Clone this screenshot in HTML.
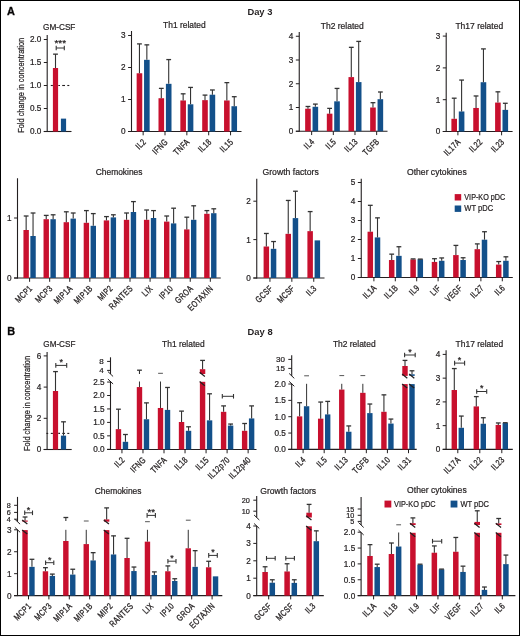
<!DOCTYPE html>
<html><head><meta charset="utf-8"><style>
html,body{margin:0;padding:0;background:#fff;}
body{width:520px;height:636px;position:relative;overflow:hidden;}
svg{will-change:transform;}
svg text{font-family:"Liberation Sans", sans-serif;stroke:#231f20;stroke-width:0.22px;}
</style></head><body>
<svg width="520" height="636" viewBox="0 0 520 636" style="position:absolute;left:0;top:0">
<g font-family='"Liberation Sans", sans-serif'>
<rect x="0.5" y="0.5" width="519" height="635" fill="none" stroke="#000" stroke-width="1"/>
<text x="6.9" y="14.8" font-size="10.9" font-weight="bold" style="stroke-width:0.35" fill="#000">A</text>
<text x="247.4" y="15.2" font-size="9.6" text-anchor="start" font-weight="bold" style="stroke-width:0" textLength="25" lengthAdjust="spacingAndGlyphs" fill="#231f20">Day 3</text>
<text x="59.2" y="30" font-size="8.9" text-anchor="middle" textLength="32.4" lengthAdjust="spacingAndGlyphs" fill="#231f20">GM-CSF</text>
<text transform="translate(23.7,85.3) rotate(-90)" font-size="8.2" text-anchor="middle" textLength="95" lengthAdjust="spacingAndGlyphs" fill="#231f20">Fold change in concentration</text>
<line x1="47.2" y1="35" x2="47.2" y2="132" stroke="#231f20" stroke-width="1.1" />
<line x1="43.8" y1="131.5" x2="71.5" y2="131.5" stroke="#231f20" stroke-width="1.1" />
<line x1="43.8" y1="131.5" x2="47.2" y2="131.5" stroke="#231f20" stroke-width="1.0" />
<text x="41.3" y="134.4" font-size="8.2" text-anchor="end" fill="#231f20">0.0</text>
<line x1="43.8" y1="108.5" x2="47.2" y2="108.5" stroke="#231f20" stroke-width="1.0" />
<text x="41.3" y="111.4" font-size="8.2" text-anchor="end" fill="#231f20">0.5</text>
<line x1="43.8" y1="85.5" x2="47.2" y2="85.5" stroke="#231f20" stroke-width="1.0" />
<text x="41.3" y="88.4" font-size="8.2" text-anchor="end" fill="#231f20">1.0</text>
<line x1="43.8" y1="62.5" x2="47.2" y2="62.5" stroke="#231f20" stroke-width="1.0" />
<text x="41.3" y="65.4" font-size="8.2" text-anchor="end" fill="#231f20">1.5</text>
<line x1="43.8" y1="39.5" x2="47.2" y2="39.5" stroke="#231f20" stroke-width="1.0" />
<text x="41.3" y="42.4" font-size="8.2" text-anchor="end" fill="#231f20">2.0</text>
<line x1="50.8" y1="85.5" x2="52.9" y2="85.5" stroke="#231f20" stroke-width="1.1" />
<line x1="55" y1="85.5" x2="58" y2="85.5" stroke="#231f20" stroke-width="1.1" />
<line x1="58.3" y1="85.5" x2="60" y2="85.5" stroke="#231f20" stroke-width="1.1" />
<line x1="62.2" y1="85.5" x2="65" y2="85.5" stroke="#231f20" stroke-width="1.1" />
<line x1="67.3" y1="85.5" x2="69.3" y2="85.5" stroke="#231f20" stroke-width="1.1" />
<rect x="52.9" y="68.02" width="5.2" height="63.48" fill="#c8102e"/>
<line x1="55.5" y1="68.02" x2="55.5" y2="54.16" stroke="#333333" stroke-width="1.1" />
<line x1="53.1" y1="54.16" x2="57.9" y2="54.16" stroke="#333333" stroke-width="1.3" />
<rect x="60.9" y="118.62" width="5.2" height="12.88" fill="#13508a"/>
<line x1="56.2" y1="48" x2="64.3" y2="48" stroke="#333333" stroke-width="1.0" />
<line x1="56.2" y1="45.7" x2="56.2" y2="50.3" stroke="#333333" stroke-width="1.1" />
<line x1="64.3" y1="45.7" x2="64.3" y2="50.3" stroke="#333333" stroke-width="1.1" />
<text x="60.25" y="45.8" font-size="9" text-anchor="middle" textLength="11.7" lengthAdjust="spacingAndGlyphs" fill="#231f20">***</text>
<text x="184.4" y="27.9" font-size="8.9" text-anchor="middle" textLength="42.6" lengthAdjust="spacingAndGlyphs" fill="#231f20">Th1 related</text>
<line x1="131.5" y1="31" x2="131.5" y2="132" stroke="#231f20" stroke-width="1.1" />
<line x1="128.1" y1="131.5" x2="241.5" y2="131.5" stroke="#231f20" stroke-width="1.1" />
<line x1="128.1" y1="131.5" x2="131.5" y2="131.5" stroke="#231f20" stroke-width="1.0" />
<text x="125.6" y="134.4" font-size="8.2" text-anchor="end" fill="#231f20">0</text>
<line x1="128.1" y1="99.5" x2="131.5" y2="99.5" stroke="#231f20" stroke-width="1.0" />
<text x="125.6" y="102.4" font-size="8.2" text-anchor="end" fill="#231f20">1</text>
<line x1="128.1" y1="67.5" x2="131.5" y2="67.5" stroke="#231f20" stroke-width="1.0" />
<text x="125.6" y="70.4" font-size="8.2" text-anchor="end" fill="#231f20">2</text>
<line x1="128.1" y1="35.5" x2="131.5" y2="35.5" stroke="#231f20" stroke-width="1.0" />
<text x="125.6" y="38.4" font-size="8.2" text-anchor="end" fill="#231f20">3</text>
<rect x="136.65" y="73.26" width="5.6" height="58.24" fill="#c8102e"/>
<line x1="139.45" y1="73.26" x2="139.45" y2="43.9" stroke="#333333" stroke-width="1.1" />
<line x1="137.05" y1="43.9" x2="141.85" y2="43.9" stroke="#333333" stroke-width="1.3" />
<rect x="144.05" y="59.82" width="5.6" height="71.68" fill="#13508a"/>
<line x1="146.85" y1="59.82" x2="146.85" y2="44.86" stroke="#333333" stroke-width="1.1" />
<line x1="144.45" y1="44.86" x2="149.25" y2="44.86" stroke="#333333" stroke-width="1.3" />
<line x1="143.15" y1="131.5" x2="143.15" y2="135.3" stroke="#231f20" stroke-width="1.0" />
<text transform="translate(146.55,142.5) rotate(-45) scale(0.75,1)" font-size="9.0" text-anchor="end" letter-spacing="0.5" style="stroke-width:0.3" fill="#231f20">IL2</text>
<rect x="158.5" y="98.22" width="5.6" height="33.28" fill="#c8102e"/>
<line x1="161.3" y1="98.22" x2="161.3" y2="88.38" stroke="#333333" stroke-width="1.1" />
<line x1="158.9" y1="88.38" x2="163.7" y2="88.38" stroke="#333333" stroke-width="1.3" />
<rect x="165.9" y="83.82" width="5.6" height="47.68" fill="#13508a"/>
<line x1="168.7" y1="83.82" x2="168.7" y2="59.58" stroke="#333333" stroke-width="1.1" />
<line x1="166.3" y1="59.58" x2="171.1" y2="59.58" stroke="#333333" stroke-width="1.3" />
<line x1="165" y1="131.5" x2="165" y2="135.3" stroke="#231f20" stroke-width="1.0" />
<text transform="translate(168.4,142.5) rotate(-45) scale(0.75,1)" font-size="9.0" text-anchor="end" letter-spacing="0.5" style="stroke-width:0.3" fill="#231f20">IFNG</text>
<rect x="180.35" y="100.46" width="5.6" height="31.04" fill="#c8102e"/>
<line x1="183.15" y1="100.46" x2="183.15" y2="93.82" stroke="#333333" stroke-width="1.1" />
<line x1="180.75" y1="93.82" x2="185.55" y2="93.82" stroke="#333333" stroke-width="1.3" />
<rect x="187.75" y="104.3" width="5.6" height="27.2" fill="#13508a"/>
<line x1="190.55" y1="104.3" x2="190.55" y2="87.42" stroke="#333333" stroke-width="1.1" />
<line x1="188.15" y1="87.42" x2="192.95" y2="87.42" stroke="#333333" stroke-width="1.3" />
<line x1="186.85" y1="131.5" x2="186.85" y2="135.3" stroke="#231f20" stroke-width="1.0" />
<text transform="translate(190.25,142.5) rotate(-45) scale(0.75,1)" font-size="9.0" text-anchor="end" letter-spacing="0.5" style="stroke-width:0.3" fill="#231f20">TNFA</text>
<rect x="202.2" y="100.14" width="5.6" height="31.36" fill="#c8102e"/>
<line x1="205" y1="100.14" x2="205" y2="95.1" stroke="#333333" stroke-width="1.1" />
<line x1="202.6" y1="95.1" x2="207.4" y2="95.1" stroke="#333333" stroke-width="1.3" />
<rect x="209.6" y="94.7" width="5.6" height="36.8" fill="#13508a"/>
<line x1="212.4" y1="94.7" x2="212.4" y2="89.98" stroke="#333333" stroke-width="1.1" />
<line x1="210" y1="89.98" x2="214.8" y2="89.98" stroke="#333333" stroke-width="1.3" />
<line x1="208.7" y1="131.5" x2="208.7" y2="135.3" stroke="#231f20" stroke-width="1.0" />
<text transform="translate(212.1,142.5) rotate(-45) scale(0.75,1)" font-size="9.0" text-anchor="end" letter-spacing="0.5" style="stroke-width:0.3" fill="#231f20">IL18</text>
<rect x="224.05" y="100.46" width="5.6" height="31.04" fill="#c8102e"/>
<line x1="226.85" y1="100.46" x2="226.85" y2="82.62" stroke="#333333" stroke-width="1.1" />
<line x1="224.45" y1="82.62" x2="229.25" y2="82.62" stroke="#333333" stroke-width="1.3" />
<rect x="231.45" y="106.22" width="5.6" height="25.28" fill="#13508a"/>
<line x1="234.25" y1="106.22" x2="234.25" y2="96.7" stroke="#333333" stroke-width="1.1" />
<line x1="231.85" y1="96.7" x2="236.65" y2="96.7" stroke="#333333" stroke-width="1.3" />
<line x1="230.55" y1="131.5" x2="230.55" y2="135.3" stroke="#231f20" stroke-width="1.0" />
<text transform="translate(233.95,142.5) rotate(-45) scale(0.75,1)" font-size="9.0" text-anchor="end" letter-spacing="0.5" style="stroke-width:0.3" fill="#231f20">IL15</text>
<text x="342.25" y="29.1" font-size="8.9" text-anchor="middle" textLength="43" lengthAdjust="spacingAndGlyphs" fill="#231f20">Th2 related</text>
<line x1="299.25" y1="32" x2="299.25" y2="131.75" stroke="#231f20" stroke-width="1.1" />
<line x1="295.85" y1="131.25" x2="387.5" y2="131.25" stroke="#231f20" stroke-width="1.1" />
<line x1="295.85" y1="131.25" x2="299.25" y2="131.25" stroke="#231f20" stroke-width="1.0" />
<text x="293.35" y="134.15" font-size="8.2" text-anchor="end" fill="#231f20">0</text>
<line x1="295.85" y1="107.5" x2="299.25" y2="107.5" stroke="#231f20" stroke-width="1.0" />
<text x="293.35" y="110.4" font-size="8.2" text-anchor="end" fill="#231f20">1</text>
<line x1="295.85" y1="83.75" x2="299.25" y2="83.75" stroke="#231f20" stroke-width="1.0" />
<text x="293.35" y="86.65" font-size="8.2" text-anchor="end" fill="#231f20">2</text>
<line x1="295.85" y1="60" x2="299.25" y2="60" stroke="#231f20" stroke-width="1.0" />
<text x="293.35" y="62.9" font-size="8.2" text-anchor="end" fill="#231f20">3</text>
<line x1="295.85" y1="36.25" x2="299.25" y2="36.25" stroke="#231f20" stroke-width="1.0" />
<text x="293.35" y="39.15" font-size="8.2" text-anchor="end" fill="#231f20">4</text>
<rect x="305.15" y="108.69" width="5.6" height="22.56" fill="#c8102e"/>
<line x1="307.95" y1="108.69" x2="307.95" y2="106.48" stroke="#333333" stroke-width="1.1" />
<line x1="305.55" y1="106.48" x2="310.35" y2="106.48" stroke="#333333" stroke-width="1.3" />
<rect x="312.55" y="106.79" width="5.6" height="24.46" fill="#13508a"/>
<line x1="315.35" y1="106.79" x2="315.35" y2="104.1" stroke="#333333" stroke-width="1.1" />
<line x1="312.95" y1="104.1" x2="317.75" y2="104.1" stroke="#333333" stroke-width="1.3" />
<line x1="311.65" y1="131.25" x2="311.65" y2="135.05" stroke="#231f20" stroke-width="1.0" />
<text transform="translate(315.05,142.25) rotate(-45) scale(0.75,1)" font-size="9.0" text-anchor="end" letter-spacing="0.5" style="stroke-width:0.3" fill="#231f20">IL4</text>
<rect x="326.82" y="113.67" width="5.6" height="17.58" fill="#c8102e"/>
<line x1="329.62" y1="113.67" x2="329.62" y2="108.38" stroke="#333333" stroke-width="1.1" />
<line x1="327.22" y1="108.38" x2="332.02" y2="108.38" stroke="#333333" stroke-width="1.3" />
<rect x="334.22" y="101.33" width="5.6" height="29.92" fill="#13508a"/>
<line x1="337.02" y1="101.33" x2="337.02" y2="88.43" stroke="#333333" stroke-width="1.1" />
<line x1="334.62" y1="88.43" x2="339.42" y2="88.43" stroke="#333333" stroke-width="1.3" />
<line x1="333.32" y1="131.25" x2="333.32" y2="135.05" stroke="#231f20" stroke-width="1.0" />
<text transform="translate(336.72,142.25) rotate(-45) scale(0.75,1)" font-size="9.0" text-anchor="end" letter-spacing="0.5" style="stroke-width:0.3" fill="#231f20">IL5</text>
<rect x="348.49" y="77.1" width="5.6" height="54.15" fill="#c8102e"/>
<line x1="351.29" y1="77.1" x2="351.29" y2="47.34" stroke="#333333" stroke-width="1.1" />
<line x1="348.89" y1="47.34" x2="353.69" y2="47.34" stroke="#333333" stroke-width="1.3" />
<rect x="355.89" y="82.09" width="5.6" height="49.16" fill="#13508a"/>
<line x1="358.69" y1="82.09" x2="358.69" y2="41.4" stroke="#333333" stroke-width="1.1" />
<line x1="356.29" y1="41.4" x2="361.09" y2="41.4" stroke="#333333" stroke-width="1.3" />
<line x1="354.99" y1="131.25" x2="354.99" y2="135.05" stroke="#231f20" stroke-width="1.0" />
<text transform="translate(358.39,142.25) rotate(-45) scale(0.75,1)" font-size="9.0" text-anchor="end" letter-spacing="0.5" style="stroke-width:0.3" fill="#231f20">IL13</text>
<rect x="370.16" y="107.5" width="5.6" height="23.75" fill="#c8102e"/>
<line x1="372.96" y1="107.5" x2="372.96" y2="102.68" stroke="#333333" stroke-width="1.1" />
<line x1="370.56" y1="102.68" x2="375.36" y2="102.68" stroke="#333333" stroke-width="1.3" />
<rect x="377.56" y="99.19" width="5.6" height="32.06" fill="#13508a"/>
<line x1="380.36" y1="99.19" x2="380.36" y2="91.99" stroke="#333333" stroke-width="1.1" />
<line x1="377.96" y1="91.99" x2="382.76" y2="91.99" stroke="#333333" stroke-width="1.3" />
<line x1="376.66" y1="131.25" x2="376.66" y2="135.05" stroke="#231f20" stroke-width="1.0" />
<text transform="translate(380.06,142.25) rotate(-45) scale(0.75,1)" font-size="9.0" text-anchor="end" letter-spacing="0.5" style="stroke-width:0.3" fill="#231f20">TGFB</text>
<text x="479.3" y="29.1" font-size="8.9" text-anchor="middle" textLength="47.8" lengthAdjust="spacingAndGlyphs" fill="#231f20">Th17 related</text>
<line x1="446.2" y1="32.7" x2="446.2" y2="132" stroke="#231f20" stroke-width="1.1" />
<line x1="442.8" y1="131.5" x2="512.6" y2="131.5" stroke="#231f20" stroke-width="1.1" />
<line x1="442.8" y1="131.5" x2="446.2" y2="131.5" stroke="#231f20" stroke-width="1.0" />
<text x="440.3" y="134.4" font-size="8.2" text-anchor="end" fill="#231f20">0</text>
<line x1="442.8" y1="99.7" x2="446.2" y2="99.7" stroke="#231f20" stroke-width="1.0" />
<text x="440.3" y="102.6" font-size="8.2" text-anchor="end" fill="#231f20">1</text>
<line x1="442.8" y1="67.9" x2="446.2" y2="67.9" stroke="#231f20" stroke-width="1.0" />
<text x="440.3" y="70.8" font-size="8.2" text-anchor="end" fill="#231f20">2</text>
<line x1="442.8" y1="36.1" x2="446.2" y2="36.1" stroke="#231f20" stroke-width="1.0" />
<text x="440.3" y="39" font-size="8.2" text-anchor="end" fill="#231f20">3</text>
<rect x="451.4" y="118.78" width="5.6" height="12.72" fill="#c8102e"/>
<line x1="454.2" y1="118.78" x2="454.2" y2="98.19" stroke="#333333" stroke-width="1.1" />
<line x1="451.8" y1="98.19" x2="456.6" y2="98.19" stroke="#333333" stroke-width="1.3" />
<rect x="458.8" y="111.47" width="5.6" height="20.03" fill="#13508a"/>
<line x1="461.6" y1="111.47" x2="461.6" y2="80.07" stroke="#333333" stroke-width="1.1" />
<line x1="459.2" y1="80.07" x2="464" y2="80.07" stroke="#333333" stroke-width="1.3" />
<line x1="457.9" y1="131.5" x2="457.9" y2="135.3" stroke="#231f20" stroke-width="1.0" />
<text transform="translate(461.3,142.5) rotate(-45) scale(0.75,1)" font-size="9.0" text-anchor="end" letter-spacing="0.5" style="stroke-width:0.3" fill="#231f20">IL17A</text>
<rect x="473.25" y="107.97" width="5.6" height="23.53" fill="#c8102e"/>
<line x1="476.05" y1="107.97" x2="476.05" y2="95.97" stroke="#333333" stroke-width="1.1" />
<line x1="473.65" y1="95.97" x2="478.45" y2="95.97" stroke="#333333" stroke-width="1.3" />
<rect x="480.65" y="82.21" width="5.6" height="49.29" fill="#13508a"/>
<line x1="483.45" y1="82.21" x2="483.45" y2="48.9" stroke="#333333" stroke-width="1.1" />
<line x1="481.05" y1="48.9" x2="485.85" y2="48.9" stroke="#333333" stroke-width="1.3" />
<line x1="479.75" y1="131.5" x2="479.75" y2="135.3" stroke="#231f20" stroke-width="1.0" />
<text transform="translate(483.15,142.5) rotate(-45) scale(0.75,1)" font-size="9.0" text-anchor="end" letter-spacing="0.5" style="stroke-width:0.3" fill="#231f20">IL22</text>
<rect x="495.1" y="102.56" width="5.6" height="28.94" fill="#c8102e"/>
<line x1="497.9" y1="102.56" x2="497.9" y2="91.83" stroke="#333333" stroke-width="1.1" />
<line x1="495.5" y1="91.83" x2="500.3" y2="91.83" stroke="#333333" stroke-width="1.3" />
<rect x="502.5" y="109.88" width="5.6" height="21.62" fill="#13508a"/>
<line x1="505.3" y1="109.88" x2="505.3" y2="103.28" stroke="#333333" stroke-width="1.1" />
<line x1="502.9" y1="103.28" x2="507.7" y2="103.28" stroke="#333333" stroke-width="1.3" />
<line x1="501.6" y1="131.5" x2="501.6" y2="135.3" stroke="#231f20" stroke-width="1.0" />
<text transform="translate(505,142.5) rotate(-45) scale(0.75,1)" font-size="9.0" text-anchor="end" letter-spacing="0.5" style="stroke-width:0.3" fill="#231f20">IL23</text>
<text x="119.12" y="175" font-size="8.9" text-anchor="middle" textLength="46.75" lengthAdjust="spacingAndGlyphs" fill="#231f20">Chemokines</text>
<line x1="17.5" y1="178.25" x2="17.5" y2="278.5" stroke="#231f20" stroke-width="1.1" />
<line x1="14.1" y1="278" x2="220.75" y2="278" stroke="#231f20" stroke-width="1.1" />
<line x1="14.1" y1="278" x2="17.5" y2="278" stroke="#231f20" stroke-width="1.0" />
<text x="11.6" y="280.9" font-size="8.2" text-anchor="end" fill="#231f20">0</text>
<line x1="14.1" y1="218" x2="17.5" y2="218" stroke="#231f20" stroke-width="1.0" />
<text x="11.6" y="220.9" font-size="8.2" text-anchor="end" fill="#231f20">1</text>
<rect x="23.45" y="230" width="5.4" height="48" fill="#c8102e"/>
<line x1="26.15" y1="230" x2="26.15" y2="216" stroke="#333333" stroke-width="1.1" />
<line x1="23.75" y1="216" x2="28.55" y2="216" stroke="#333333" stroke-width="1.3" />
<rect x="30.35" y="236" width="5.4" height="42" fill="#13508a"/>
<line x1="33.05" y1="236" x2="33.05" y2="213" stroke="#333333" stroke-width="1.1" />
<line x1="30.65" y1="213" x2="35.45" y2="213" stroke="#333333" stroke-width="1.3" />
<line x1="29.6" y1="278" x2="29.6" y2="281.8" stroke="#231f20" stroke-width="1.0" />
<text transform="translate(33,289) rotate(-45) scale(0.75,1)" font-size="9.0" text-anchor="end" letter-spacing="0.5" style="stroke-width:0.3" fill="#231f20">MCP1</text>
<rect x="43.53" y="219.2" width="5.4" height="58.8" fill="#c8102e"/>
<line x1="46.23" y1="219.2" x2="46.23" y2="215.4" stroke="#333333" stroke-width="1.1" />
<line x1="43.83" y1="215.4" x2="48.63" y2="215.4" stroke="#333333" stroke-width="1.3" />
<rect x="50.43" y="219.2" width="5.4" height="58.8" fill="#13508a"/>
<line x1="53.13" y1="219.2" x2="53.13" y2="214.8" stroke="#333333" stroke-width="1.1" />
<line x1="50.73" y1="214.8" x2="55.53" y2="214.8" stroke="#333333" stroke-width="1.3" />
<line x1="49.68" y1="278" x2="49.68" y2="281.8" stroke="#231f20" stroke-width="1.0" />
<text transform="translate(53.08,289) rotate(-45) scale(0.75,1)" font-size="9.0" text-anchor="end" letter-spacing="0.5" style="stroke-width:0.3" fill="#231f20">MCP3</text>
<rect x="63.61" y="222.2" width="5.4" height="55.8" fill="#c8102e"/>
<line x1="66.31" y1="222.2" x2="66.31" y2="211.8" stroke="#333333" stroke-width="1.1" />
<line x1="63.91" y1="211.8" x2="68.71" y2="211.8" stroke="#333333" stroke-width="1.3" />
<rect x="70.51" y="218.6" width="5.4" height="59.4" fill="#13508a"/>
<line x1="73.21" y1="218.6" x2="73.21" y2="213" stroke="#333333" stroke-width="1.1" />
<line x1="70.81" y1="213" x2="75.61" y2="213" stroke="#333333" stroke-width="1.3" />
<line x1="69.76" y1="278" x2="69.76" y2="281.8" stroke="#231f20" stroke-width="1.0" />
<text transform="translate(73.16,289) rotate(-45) scale(0.75,1)" font-size="9.0" text-anchor="end" letter-spacing="0.5" style="stroke-width:0.3" fill="#231f20">MIP1A</text>
<rect x="83.69" y="222.8" width="5.4" height="55.2" fill="#c8102e"/>
<line x1="86.39" y1="222.8" x2="86.39" y2="210.6" stroke="#333333" stroke-width="1.1" />
<line x1="83.99" y1="210.6" x2="88.79" y2="210.6" stroke="#333333" stroke-width="1.3" />
<rect x="90.59" y="225.8" width="5.4" height="52.2" fill="#13508a"/>
<line x1="93.29" y1="225.8" x2="93.29" y2="213.6" stroke="#333333" stroke-width="1.1" />
<line x1="90.89" y1="213.6" x2="95.69" y2="213.6" stroke="#333333" stroke-width="1.3" />
<line x1="89.84" y1="278" x2="89.84" y2="281.8" stroke="#231f20" stroke-width="1.0" />
<text transform="translate(93.24,289) rotate(-45) scale(0.75,1)" font-size="9.0" text-anchor="end" letter-spacing="0.5" style="stroke-width:0.3" fill="#231f20">MIP1B</text>
<rect x="103.77" y="220.4" width="5.4" height="57.6" fill="#c8102e"/>
<line x1="106.47" y1="220.4" x2="106.47" y2="216.6" stroke="#333333" stroke-width="1.1" />
<line x1="104.07" y1="216.6" x2="108.87" y2="216.6" stroke="#333333" stroke-width="1.3" />
<rect x="110.67" y="217.4" width="5.4" height="60.6" fill="#13508a"/>
<line x1="113.37" y1="217.4" x2="113.37" y2="214.8" stroke="#333333" stroke-width="1.1" />
<line x1="110.97" y1="214.8" x2="115.77" y2="214.8" stroke="#333333" stroke-width="1.3" />
<line x1="109.92" y1="278" x2="109.92" y2="281.8" stroke="#231f20" stroke-width="1.0" />
<text transform="translate(113.32,289) rotate(-45) scale(0.75,1)" font-size="9.0" text-anchor="end" letter-spacing="0.5" style="stroke-width:0.3" fill="#231f20">MIP2</text>
<rect x="123.85" y="219.8" width="5.4" height="58.2" fill="#c8102e"/>
<line x1="126.55" y1="219.8" x2="126.55" y2="213" stroke="#333333" stroke-width="1.1" />
<line x1="124.15" y1="213" x2="128.95" y2="213" stroke="#333333" stroke-width="1.3" />
<rect x="130.75" y="212" width="5.4" height="66" fill="#13508a"/>
<line x1="133.45" y1="212" x2="133.45" y2="201.6" stroke="#333333" stroke-width="1.1" />
<line x1="131.05" y1="201.6" x2="135.85" y2="201.6" stroke="#333333" stroke-width="1.3" />
<line x1="130" y1="278" x2="130" y2="281.8" stroke="#231f20" stroke-width="1.0" />
<text transform="translate(133.4,289) rotate(-45) scale(0.75,1)" font-size="9.0" text-anchor="end" letter-spacing="0.5" style="stroke-width:0.3" fill="#231f20">RANTES</text>
<rect x="143.93" y="219.8" width="5.4" height="58.2" fill="#c8102e"/>
<line x1="146.63" y1="219.8" x2="146.63" y2="210" stroke="#333333" stroke-width="1.1" />
<line x1="144.23" y1="210" x2="149.03" y2="210" stroke="#333333" stroke-width="1.3" />
<rect x="150.83" y="218" width="5.4" height="60" fill="#13508a"/>
<line x1="153.53" y1="218" x2="153.53" y2="210.6" stroke="#333333" stroke-width="1.1" />
<line x1="151.13" y1="210.6" x2="155.93" y2="210.6" stroke="#333333" stroke-width="1.3" />
<line x1="150.08" y1="278" x2="150.08" y2="281.8" stroke="#231f20" stroke-width="1.0" />
<text transform="translate(153.48,289) rotate(-45) scale(0.75,1)" font-size="9.0" text-anchor="end" letter-spacing="0.5" style="stroke-width:0.3" fill="#231f20">LIX</text>
<rect x="164.01" y="221.6" width="5.4" height="56.4" fill="#c8102e"/>
<line x1="166.71" y1="221.6" x2="166.71" y2="216" stroke="#333333" stroke-width="1.1" />
<line x1="164.31" y1="216" x2="169.11" y2="216" stroke="#333333" stroke-width="1.3" />
<rect x="170.91" y="223.4" width="5.4" height="54.6" fill="#13508a"/>
<line x1="173.61" y1="223.4" x2="173.61" y2="208.2" stroke="#333333" stroke-width="1.1" />
<line x1="171.21" y1="208.2" x2="176.01" y2="208.2" stroke="#333333" stroke-width="1.3" />
<line x1="170.16" y1="278" x2="170.16" y2="281.8" stroke="#231f20" stroke-width="1.0" />
<text transform="translate(173.56,289) rotate(-45) scale(0.75,1)" font-size="9.0" text-anchor="end" letter-spacing="0.5" style="stroke-width:0.3" fill="#231f20">IP10</text>
<rect x="184.09" y="229.4" width="5.4" height="48.6" fill="#c8102e"/>
<line x1="186.79" y1="229.4" x2="186.79" y2="217.2" stroke="#333333" stroke-width="1.1" />
<line x1="184.39" y1="217.2" x2="189.19" y2="217.2" stroke="#333333" stroke-width="1.3" />
<rect x="190.99" y="219.8" width="5.4" height="58.2" fill="#13508a"/>
<line x1="193.69" y1="219.8" x2="193.69" y2="205.8" stroke="#333333" stroke-width="1.1" />
<line x1="191.29" y1="205.8" x2="196.09" y2="205.8" stroke="#333333" stroke-width="1.3" />
<line x1="190.24" y1="278" x2="190.24" y2="281.8" stroke="#231f20" stroke-width="1.0" />
<text transform="translate(193.64,289) rotate(-45) scale(0.75,1)" font-size="9.0" text-anchor="end" letter-spacing="0.5" style="stroke-width:0.3" fill="#231f20">GROA</text>
<rect x="204.17" y="213.8" width="5.4" height="64.2" fill="#c8102e"/>
<line x1="206.87" y1="213.8" x2="206.87" y2="210.6" stroke="#333333" stroke-width="1.1" />
<line x1="204.47" y1="210.6" x2="209.27" y2="210.6" stroke="#333333" stroke-width="1.3" />
<rect x="211.07" y="213.2" width="5.4" height="64.8" fill="#13508a"/>
<line x1="213.77" y1="213.2" x2="213.77" y2="208.8" stroke="#333333" stroke-width="1.1" />
<line x1="211.37" y1="208.8" x2="216.17" y2="208.8" stroke="#333333" stroke-width="1.3" />
<line x1="210.32" y1="278" x2="210.32" y2="281.8" stroke="#231f20" stroke-width="1.0" />
<text transform="translate(213.72,289) rotate(-45) scale(0.75,1)" font-size="9.0" text-anchor="end" letter-spacing="0.5" style="stroke-width:0.3" fill="#231f20">EOTAXIN</text>
<text x="290.62" y="175" font-size="8.9" text-anchor="middle" textLength="56.25" lengthAdjust="spacingAndGlyphs" fill="#231f20">Growth factors</text>
<line x1="256.75" y1="178.75" x2="256.75" y2="278.5" stroke="#231f20" stroke-width="1.1" />
<line x1="253.35" y1="278" x2="324.5" y2="278" stroke="#231f20" stroke-width="1.1" />
<line x1="253.35" y1="278" x2="256.75" y2="278" stroke="#231f20" stroke-width="1.0" />
<text x="250.85" y="280.9" font-size="8.2" text-anchor="end" fill="#231f20">0</text>
<line x1="253.35" y1="239.6" x2="256.75" y2="239.6" stroke="#231f20" stroke-width="1.0" />
<text x="250.85" y="242.5" font-size="8.2" text-anchor="end" fill="#231f20">1</text>
<line x1="253.35" y1="201.2" x2="256.75" y2="201.2" stroke="#231f20" stroke-width="1.0" />
<text x="250.85" y="204.1" font-size="8.2" text-anchor="end" fill="#231f20">2</text>
<rect x="263.6" y="246.51" width="5.5" height="31.49" fill="#c8102e"/>
<line x1="266.35" y1="246.51" x2="266.35" y2="233.47" stroke="#333333" stroke-width="1.1" />
<line x1="263.95" y1="233.47" x2="268.75" y2="233.47" stroke="#333333" stroke-width="1.3" />
<rect x="270.8" y="248.82" width="5.5" height="29.18" fill="#13508a"/>
<line x1="273.55" y1="248.82" x2="273.55" y2="241.54" stroke="#333333" stroke-width="1.1" />
<line x1="271.15" y1="241.54" x2="275.95" y2="241.54" stroke="#333333" stroke-width="1.3" />
<line x1="269.95" y1="278" x2="269.95" y2="281.8" stroke="#231f20" stroke-width="1.0" />
<text transform="translate(273.35,289) rotate(-45) scale(0.75,1)" font-size="9.0" text-anchor="end" letter-spacing="0.5" style="stroke-width:0.3" fill="#231f20">GCSF</text>
<rect x="285.5" y="233.84" width="5.5" height="44.16" fill="#c8102e"/>
<line x1="288.25" y1="233.84" x2="288.25" y2="200.45" stroke="#333333" stroke-width="1.1" />
<line x1="285.85" y1="200.45" x2="290.65" y2="200.45" stroke="#333333" stroke-width="1.3" />
<rect x="292.7" y="218.1" width="5.5" height="59.9" fill="#13508a"/>
<line x1="295.45" y1="218.1" x2="295.45" y2="191.23" stroke="#333333" stroke-width="1.1" />
<line x1="293.05" y1="191.23" x2="297.85" y2="191.23" stroke="#333333" stroke-width="1.3" />
<line x1="291.85" y1="278" x2="291.85" y2="281.8" stroke="#231f20" stroke-width="1.0" />
<text transform="translate(295.25,289) rotate(-45) scale(0.75,1)" font-size="9.0" text-anchor="end" letter-spacing="0.5" style="stroke-width:0.3" fill="#231f20">MCSF</text>
<rect x="307.4" y="231.15" width="5.5" height="46.85" fill="#c8102e"/>
<line x1="310.15" y1="231.15" x2="310.15" y2="211.58" stroke="#333333" stroke-width="1.1" />
<line x1="307.75" y1="211.58" x2="312.55" y2="211.58" stroke="#333333" stroke-width="1.3" />
<rect x="314.6" y="240.37" width="5.5" height="37.63" fill="#13508a"/>
<line x1="313.75" y1="278" x2="313.75" y2="281.8" stroke="#231f20" stroke-width="1.0" />
<text transform="translate(317.15,289) rotate(-45) scale(0.75,1)" font-size="9.0" text-anchor="end" letter-spacing="0.5" style="stroke-width:0.3" fill="#231f20">IL3</text>
<text x="436.85" y="175.4" font-size="8.9" text-anchor="middle" textLength="59.7" lengthAdjust="spacingAndGlyphs" fill="#231f20">Other cytokines</text>
<line x1="361.25" y1="178.75" x2="361.25" y2="278" stroke="#231f20" stroke-width="1.1" />
<line x1="357.85" y1="277.5" x2="512.8" y2="277.5" stroke="#231f20" stroke-width="1.1" />
<line x1="357.85" y1="277.5" x2="361.25" y2="277.5" stroke="#231f20" stroke-width="1.0" />
<text x="355.35" y="280.4" font-size="8.2" text-anchor="end" fill="#231f20">0</text>
<line x1="357.85" y1="258.5" x2="361.25" y2="258.5" stroke="#231f20" stroke-width="1.0" />
<text x="355.35" y="261.4" font-size="8.2" text-anchor="end" fill="#231f20">1</text>
<line x1="357.85" y1="239.5" x2="361.25" y2="239.5" stroke="#231f20" stroke-width="1.0" />
<text x="355.35" y="242.4" font-size="8.2" text-anchor="end" fill="#231f20">2</text>
<line x1="357.85" y1="220.5" x2="361.25" y2="220.5" stroke="#231f20" stroke-width="1.0" />
<text x="355.35" y="223.4" font-size="8.2" text-anchor="end" fill="#231f20">3</text>
<line x1="357.85" y1="201.5" x2="361.25" y2="201.5" stroke="#231f20" stroke-width="1.0" />
<text x="355.35" y="204.4" font-size="8.2" text-anchor="end" fill="#231f20">4</text>
<line x1="357.85" y1="182.5" x2="361.25" y2="182.5" stroke="#231f20" stroke-width="1.0" />
<text x="355.35" y="185.4" font-size="8.2" text-anchor="end" fill="#231f20">5</text>
<rect x="367.55" y="231.71" width="5.5" height="45.79" fill="#c8102e"/>
<line x1="370.3" y1="231.71" x2="370.3" y2="205.32" stroke="#333333" stroke-width="1.1" />
<line x1="367.9" y1="205.32" x2="372.7" y2="205.32" stroke="#333333" stroke-width="1.3" />
<rect x="374.75" y="237.41" width="5.5" height="40.09" fill="#13508a"/>
<line x1="377.5" y1="237.41" x2="377.5" y2="217.86" stroke="#333333" stroke-width="1.1" />
<line x1="375.1" y1="217.86" x2="379.9" y2="217.86" stroke="#333333" stroke-width="1.3" />
<line x1="373.9" y1="277.5" x2="373.9" y2="281.3" stroke="#231f20" stroke-width="1.0" />
<text transform="translate(377.3,288.5) rotate(-45) scale(0.75,1)" font-size="9.0" text-anchor="end" letter-spacing="0.5" style="stroke-width:0.3" fill="#231f20">IL1A</text>
<rect x="388.95" y="260.02" width="5.5" height="17.48" fill="#c8102e"/>
<line x1="391.7" y1="260.02" x2="391.7" y2="254.15" stroke="#333333" stroke-width="1.1" />
<line x1="389.3" y1="254.15" x2="394.1" y2="254.15" stroke="#333333" stroke-width="1.3" />
<rect x="396.15" y="255.84" width="5.5" height="21.66" fill="#13508a"/>
<line x1="398.9" y1="255.84" x2="398.9" y2="246.74" stroke="#333333" stroke-width="1.1" />
<line x1="396.5" y1="246.74" x2="401.3" y2="246.74" stroke="#333333" stroke-width="1.3" />
<line x1="395.3" y1="277.5" x2="395.3" y2="281.3" stroke="#231f20" stroke-width="1.0" />
<text transform="translate(398.7,288.5) rotate(-45) scale(0.75,1)" font-size="9.0" text-anchor="end" letter-spacing="0.5" style="stroke-width:0.3" fill="#231f20">IL1B</text>
<rect x="410.35" y="259.45" width="5.5" height="18.05" fill="#c8102e"/>
<line x1="413.1" y1="259.45" x2="413.1" y2="258.9" stroke="#333333" stroke-width="1.1" />
<line x1="410.7" y1="258.9" x2="415.5" y2="258.9" stroke="#333333" stroke-width="1.3" />
<rect x="417.55" y="259.26" width="5.5" height="18.24" fill="#13508a"/>
<line x1="420.3" y1="259.26" x2="420.3" y2="259.09" stroke="#333333" stroke-width="1.1" />
<line x1="417.9" y1="259.09" x2="422.7" y2="259.09" stroke="#333333" stroke-width="1.3" />
<line x1="416.7" y1="277.5" x2="416.7" y2="281.3" stroke="#231f20" stroke-width="1.0" />
<text transform="translate(420.1,288.5) rotate(-45) scale(0.75,1)" font-size="9.0" text-anchor="end" letter-spacing="0.5" style="stroke-width:0.3" fill="#231f20">IL9</text>
<rect x="431.75" y="261.92" width="5.5" height="15.58" fill="#c8102e"/>
<line x1="434.5" y1="261.92" x2="434.5" y2="258.71" stroke="#333333" stroke-width="1.1" />
<line x1="432.1" y1="258.71" x2="436.9" y2="258.71" stroke="#333333" stroke-width="1.3" />
<rect x="438.95" y="260.78" width="5.5" height="16.72" fill="#13508a"/>
<line x1="441.7" y1="260.78" x2="441.7" y2="257.95" stroke="#333333" stroke-width="1.1" />
<line x1="439.3" y1="257.95" x2="444.1" y2="257.95" stroke="#333333" stroke-width="1.3" />
<line x1="438.1" y1="277.5" x2="438.1" y2="281.3" stroke="#231f20" stroke-width="1.0" />
<text transform="translate(441.5,288.5) rotate(-45) scale(0.75,1)" font-size="9.0" text-anchor="end" letter-spacing="0.5" style="stroke-width:0.3" fill="#231f20">LIF</text>
<rect x="453.15" y="255.08" width="5.5" height="22.42" fill="#c8102e"/>
<line x1="455.9" y1="255.08" x2="455.9" y2="245.41" stroke="#333333" stroke-width="1.1" />
<line x1="453.5" y1="245.41" x2="458.3" y2="245.41" stroke="#333333" stroke-width="1.3" />
<rect x="460.35" y="260.02" width="5.5" height="17.48" fill="#13508a"/>
<line x1="463.1" y1="260.02" x2="463.1" y2="257.76" stroke="#333333" stroke-width="1.1" />
<line x1="460.7" y1="257.76" x2="465.5" y2="257.76" stroke="#333333" stroke-width="1.3" />
<line x1="459.5" y1="277.5" x2="459.5" y2="281.3" stroke="#231f20" stroke-width="1.0" />
<text transform="translate(462.9,288.5) rotate(-45) scale(0.75,1)" font-size="9.0" text-anchor="end" letter-spacing="0.5" style="stroke-width:0.3" fill="#231f20">VEGF</text>
<rect x="474.55" y="249.19" width="5.5" height="28.31" fill="#c8102e"/>
<line x1="477.3" y1="249.19" x2="477.3" y2="243.89" stroke="#333333" stroke-width="1.1" />
<line x1="474.9" y1="243.89" x2="479.7" y2="243.89" stroke="#333333" stroke-width="1.3" />
<rect x="481.75" y="239.69" width="5.5" height="37.81" fill="#13508a"/>
<line x1="484.5" y1="239.69" x2="484.5" y2="231.73" stroke="#333333" stroke-width="1.1" />
<line x1="482.1" y1="231.73" x2="486.9" y2="231.73" stroke="#333333" stroke-width="1.3" />
<line x1="480.9" y1="277.5" x2="480.9" y2="281.3" stroke="#231f20" stroke-width="1.0" />
<text transform="translate(484.3,288.5) rotate(-45) scale(0.75,1)" font-size="9.0" text-anchor="end" letter-spacing="0.5" style="stroke-width:0.3" fill="#231f20">IL27</text>
<rect x="495.95" y="264.58" width="5.5" height="12.92" fill="#c8102e"/>
<line x1="498.7" y1="264.58" x2="498.7" y2="261.56" stroke="#333333" stroke-width="1.1" />
<line x1="496.3" y1="261.56" x2="501.1" y2="261.56" stroke="#333333" stroke-width="1.3" />
<rect x="503.15" y="260.78" width="5.5" height="16.72" fill="#13508a"/>
<line x1="505.9" y1="260.78" x2="505.9" y2="256.81" stroke="#333333" stroke-width="1.1" />
<line x1="503.5" y1="256.81" x2="508.3" y2="256.81" stroke="#333333" stroke-width="1.3" />
<line x1="502.3" y1="277.5" x2="502.3" y2="281.3" stroke="#231f20" stroke-width="1.0" />
<text transform="translate(505.7,288.5) rotate(-45) scale(0.75,1)" font-size="9.0" text-anchor="end" letter-spacing="0.5" style="stroke-width:0.3" fill="#231f20">IL6</text>
<rect x="454.7" y="194.1" width="6.5" height="6.4" fill="#c8102e"/>
<text x="464.3" y="200" font-size="8.4" text-anchor="start" textLength="41" lengthAdjust="spacingAndGlyphs" fill="#231f20">VIP-KO pDC</text>
<rect x="454.7" y="205.5" width="6.5" height="6.4" fill="#13508a"/>
<text x="464.3" y="211.3" font-size="8.4" text-anchor="start" textLength="28.8" lengthAdjust="spacingAndGlyphs" fill="#231f20">WT pDC</text>
<text x="7.3" y="334.6" font-size="10.9" font-weight="bold" style="stroke-width:0.35" fill="#000">B</text>
<text x="247.6" y="334.7" font-size="9.6" text-anchor="start" font-weight="bold" style="stroke-width:0" textLength="25" lengthAdjust="spacingAndGlyphs" fill="#231f20">Day 8</text>
<text x="59.35" y="346.9" font-size="8.9" text-anchor="middle" textLength="32.1" lengthAdjust="spacingAndGlyphs" fill="#231f20">GM-CSF</text>
<text transform="translate(30.1,403.4) rotate(-90)" font-size="8.2" text-anchor="middle" textLength="95" lengthAdjust="spacingAndGlyphs" fill="#231f20">Fold change in concentration</text>
<line x1="47.1" y1="351.9" x2="47.1" y2="450" stroke="#231f20" stroke-width="1.1" />
<line x1="43.7" y1="449.5" x2="71.7" y2="449.5" stroke="#231f20" stroke-width="1.1" />
<line x1="43.7" y1="449.5" x2="47.1" y2="449.5" stroke="#231f20" stroke-width="1.0" />
<text x="41.2" y="452.4" font-size="8.2" text-anchor="end" fill="#231f20">0</text>
<line x1="43.7" y1="418.3" x2="47.1" y2="418.3" stroke="#231f20" stroke-width="1.0" />
<text x="41.2" y="421.2" font-size="8.2" text-anchor="end" fill="#231f20">2</text>
<line x1="43.7" y1="387.1" x2="47.1" y2="387.1" stroke="#231f20" stroke-width="1.0" />
<text x="41.2" y="390" font-size="8.2" text-anchor="end" fill="#231f20">4</text>
<line x1="43.7" y1="355.9" x2="47.1" y2="355.9" stroke="#231f20" stroke-width="1.0" />
<text x="41.2" y="358.8" font-size="8.2" text-anchor="end" fill="#231f20">6</text>
<line x1="46.4" y1="433.4" x2="48.2" y2="433.4" stroke="#231f20" stroke-width="1.1" />
<line x1="50.8" y1="433.4" x2="52.9" y2="433.4" stroke="#231f20" stroke-width="1.1" />
<line x1="55" y1="433.4" x2="58" y2="433.4" stroke="#231f20" stroke-width="1.1" />
<line x1="58.3" y1="433.4" x2="60" y2="433.4" stroke="#231f20" stroke-width="1.1" />
<line x1="62.2" y1="433.4" x2="65" y2="433.4" stroke="#231f20" stroke-width="1.1" />
<line x1="67.3" y1="433.4" x2="69.3" y2="433.4" stroke="#231f20" stroke-width="1.1" />
<rect x="52.9" y="391" width="5.2" height="58.5" fill="#c8102e"/>
<line x1="55.5" y1="391" x2="55.5" y2="371.59" stroke="#333333" stroke-width="1.1" />
<line x1="53.1" y1="371.59" x2="57.9" y2="371.59" stroke="#333333" stroke-width="1.3" />
<rect x="60.9" y="435.62" width="5.2" height="13.88" fill="#13508a"/>
<line x1="63.5" y1="435.62" x2="63.5" y2="421.82" stroke="#333333" stroke-width="1.1" />
<line x1="61.1" y1="421.82" x2="65.9" y2="421.82" stroke="#333333" stroke-width="1.3" />
<line x1="55.8" y1="365.4" x2="66.7" y2="365.4" stroke="#333333" stroke-width="1.0" />
<line x1="55.8" y1="363.1" x2="55.8" y2="367.7" stroke="#333333" stroke-width="1.1" />
<line x1="66.7" y1="363.1" x2="66.7" y2="367.7" stroke="#333333" stroke-width="1.1" />
<text x="61.25" y="364.8" font-size="9" text-anchor="middle" fill="#231f20">*</text>
<text x="183.35" y="346.9" font-size="8.9" text-anchor="middle" textLength="42.5" lengthAdjust="spacingAndGlyphs" fill="#231f20">Th1 related</text>
<line x1="110.5" y1="357.3" x2="110.5" y2="374" stroke="#231f20" stroke-width="1.1" />
<line x1="107.9" y1="371.53" x2="113.1" y2="376.47" stroke="#231f20" stroke-width="1.0" />
<line x1="107.9" y1="379.03" x2="113.1" y2="383.97" stroke="#231f20" stroke-width="1.0" />
<line x1="110.5" y1="381.5" x2="110.5" y2="450" stroke="#231f20" stroke-width="1.1" />
<line x1="107.1" y1="449.5" x2="256.5" y2="449.5" stroke="#231f20" stroke-width="1.1" />
<line x1="107.1" y1="449.3" x2="110.5" y2="449.3" stroke="#231f20" stroke-width="1.0" />
<text x="104.6" y="452.2" font-size="8.2" text-anchor="end" fill="#231f20">0.0</text>
<line x1="107.1" y1="435.85" x2="110.5" y2="435.85" stroke="#231f20" stroke-width="1.0" />
<text x="104.6" y="438.75" font-size="8.2" text-anchor="end" fill="#231f20">0.5</text>
<line x1="107.1" y1="422.4" x2="110.5" y2="422.4" stroke="#231f20" stroke-width="1.0" />
<text x="104.6" y="425.3" font-size="8.2" text-anchor="end" fill="#231f20">1.0</text>
<line x1="107.1" y1="408.95" x2="110.5" y2="408.95" stroke="#231f20" stroke-width="1.0" />
<text x="104.6" y="411.85" font-size="8.2" text-anchor="end" fill="#231f20">1.5</text>
<line x1="107.1" y1="395.5" x2="110.5" y2="395.5" stroke="#231f20" stroke-width="1.0" />
<text x="104.6" y="398.4" font-size="8.2" text-anchor="end" fill="#231f20">2.0</text>
<line x1="107.1" y1="382.05" x2="110.5" y2="382.05" stroke="#231f20" stroke-width="1.0" />
<text x="104.6" y="384.95" font-size="8.2" text-anchor="end" fill="#231f20">2.5</text>
<line x1="107.1" y1="361.4" x2="110.5" y2="361.4" stroke="#231f20" stroke-width="1.0" />
<text x="103.7" y="364.1" font-size="8.0" text-anchor="end" fill="#231f20">8</text>
<line x1="107.1" y1="370.4" x2="110.5" y2="370.4" stroke="#231f20" stroke-width="1.0" />
<text x="103.7" y="373.1" font-size="8.0" text-anchor="end" fill="#231f20">4</text>
<rect x="115.75" y="429.15" width="5.4" height="20.35" fill="#c8102e"/>
<line x1="118.45" y1="429.15" x2="118.45" y2="409.2" stroke="#333333" stroke-width="1.1" />
<line x1="116.05" y1="409.2" x2="120.85" y2="409.2" stroke="#333333" stroke-width="1.3" />
<rect x="122.75" y="441.8" width="5.4" height="7.7" fill="#13508a"/>
<line x1="125.45" y1="441.8" x2="125.45" y2="434.5" stroke="#333333" stroke-width="1.1" />
<line x1="123.05" y1="434.5" x2="127.85" y2="434.5" stroke="#333333" stroke-width="1.3" />
<line x1="121.95" y1="449.5" x2="121.95" y2="453.3" stroke="#231f20" stroke-width="1.0" />
<text transform="translate(125.35,460.5) rotate(-45) scale(0.75,1)" font-size="9.0" text-anchor="end" letter-spacing="0.5" style="stroke-width:0.3" fill="#231f20">IL2</text>
<rect x="136.78" y="387.07" width="5.4" height="62.43" fill="#c8102e"/>
<line x1="139.48" y1="387.07" x2="139.48" y2="381.5" stroke="#333333" stroke-width="1.0" />
<line x1="137.08" y1="370.2" x2="141.88" y2="370.2" stroke="#333333" stroke-width="1.3" />
<line x1="139.48" y1="370.2" x2="139.48" y2="374" stroke="#333333" stroke-width="1.1" />
<rect x="143.78" y="419.25" width="5.4" height="30.25" fill="#13508a"/>
<line x1="146.48" y1="419.25" x2="146.48" y2="402.88" stroke="#333333" stroke-width="1.1" />
<line x1="144.08" y1="402.88" x2="148.88" y2="402.88" stroke="#333333" stroke-width="1.3" />
<line x1="142.98" y1="449.5" x2="142.98" y2="453.3" stroke="#231f20" stroke-width="1.0" />
<text transform="translate(146.38,460.5) rotate(-45) scale(0.75,1)" font-size="9.0" text-anchor="end" letter-spacing="0.5" style="stroke-width:0.3" fill="#231f20">IFNG</text>
<rect x="157.81" y="407.98" width="5.4" height="41.52" fill="#c8102e"/>
<line x1="160.51" y1="407.98" x2="160.51" y2="381.5" stroke="#333333" stroke-width="1.0" />
<line x1="158.11" y1="373.3" x2="162.91" y2="373.3" stroke="#555" stroke-width="1.0" />
<rect x="164.81" y="409.9" width="5.4" height="39.6" fill="#13508a"/>
<line x1="167.51" y1="409.9" x2="167.51" y2="387.47" stroke="#333333" stroke-width="1.1" />
<line x1="165.11" y1="387.47" x2="169.91" y2="387.47" stroke="#333333" stroke-width="1.3" />
<line x1="164.01" y1="449.5" x2="164.01" y2="453.3" stroke="#231f20" stroke-width="1.0" />
<text transform="translate(167.41,460.5) rotate(-45) scale(0.75,1)" font-size="9.0" text-anchor="end" letter-spacing="0.5" style="stroke-width:0.3" fill="#231f20">TNFA</text>
<rect x="178.84" y="422" width="5.4" height="27.5" fill="#c8102e"/>
<line x1="181.54" y1="422" x2="181.54" y2="411.12" stroke="#333333" stroke-width="1.1" />
<line x1="179.14" y1="411.12" x2="183.94" y2="411.12" stroke="#333333" stroke-width="1.3" />
<rect x="185.84" y="430.8" width="5.4" height="18.7" fill="#13508a"/>
<line x1="188.54" y1="430.8" x2="188.54" y2="426.8" stroke="#333333" stroke-width="1.1" />
<line x1="186.14" y1="426.8" x2="190.94" y2="426.8" stroke="#333333" stroke-width="1.3" />
<line x1="185.04" y1="449.5" x2="185.04" y2="453.3" stroke="#231f20" stroke-width="1.0" />
<text transform="translate(188.44,460.5) rotate(-45) scale(0.75,1)" font-size="9.0" text-anchor="end" letter-spacing="0.5" style="stroke-width:0.3" fill="#231f20">IL18</text>
<rect x="199.87" y="381.8" width="5.4" height="67.7" fill="#c8102e"/>
<line x1="199.67" y1="381.6" x2="204.77" y2="385.8" stroke="#231f20" stroke-width="1.25" />
<rect x="199.87" y="369.2" width="5.4" height="4.8" fill="#c8102e"/>
<line x1="199.67" y1="372.2" x2="204.87" y2="376.4" stroke="#231f20" stroke-width="1.25" />
<line x1="202.57" y1="360.4" x2="202.57" y2="369.2" stroke="#333333" stroke-width="1.1" />
<line x1="200.17" y1="360.4" x2="204.97" y2="360.4" stroke="#333333" stroke-width="1.3" />
<rect x="206.87" y="420.35" width="5.4" height="29.15" fill="#13508a"/>
<line x1="209.57" y1="420.35" x2="209.57" y2="393.8" stroke="#333333" stroke-width="1.1" />
<line x1="207.17" y1="393.8" x2="211.97" y2="393.8" stroke="#333333" stroke-width="1.3" />
<line x1="206.07" y1="449.5" x2="206.07" y2="453.3" stroke="#231f20" stroke-width="1.0" />
<text transform="translate(209.47,460.5) rotate(-45) scale(0.75,1)" font-size="9.0" text-anchor="end" letter-spacing="0.5" style="stroke-width:0.3" fill="#231f20">IL15</text>
<rect x="220.9" y="411.82" width="5.4" height="37.68" fill="#c8102e"/>
<line x1="223.6" y1="411.82" x2="223.6" y2="405.9" stroke="#333333" stroke-width="1.1" />
<line x1="221.2" y1="405.9" x2="226" y2="405.9" stroke="#333333" stroke-width="1.3" />
<rect x="227.9" y="425.57" width="5.4" height="23.93" fill="#13508a"/>
<line x1="230.6" y1="425.57" x2="230.6" y2="424.05" stroke="#333333" stroke-width="1.1" />
<line x1="228.2" y1="424.05" x2="233" y2="424.05" stroke="#333333" stroke-width="1.3" />
<line x1="227.1" y1="449.5" x2="227.1" y2="453.3" stroke="#231f20" stroke-width="1.0" />
<text transform="translate(230.5,460.5) rotate(-45) scale(0.75,1)" font-size="9.0" text-anchor="end" letter-spacing="0.5" style="stroke-width:0.3" fill="#231f20">IL12p70</text>
<rect x="241.93" y="430.8" width="5.4" height="18.7" fill="#c8102e"/>
<line x1="244.63" y1="430.8" x2="244.63" y2="423.5" stroke="#333333" stroke-width="1.1" />
<line x1="242.23" y1="423.5" x2="247.03" y2="423.5" stroke="#333333" stroke-width="1.3" />
<rect x="248.93" y="418.43" width="5.4" height="31.07" fill="#13508a"/>
<line x1="251.63" y1="418.43" x2="251.63" y2="405.9" stroke="#333333" stroke-width="1.1" />
<line x1="249.23" y1="405.9" x2="254.03" y2="405.9" stroke="#333333" stroke-width="1.3" />
<line x1="248.13" y1="449.5" x2="248.13" y2="453.3" stroke="#231f20" stroke-width="1.0" />
<text transform="translate(251.53,460.5) rotate(-45) scale(0.75,1)" font-size="9.0" text-anchor="end" letter-spacing="0.5" style="stroke-width:0.3" fill="#231f20">IL12p40</text>
<line x1="222.3" y1="396.3" x2="233.5" y2="396.3" stroke="#333333" stroke-width="1.0" />
<line x1="222.3" y1="394" x2="222.3" y2="398.6" stroke="#333333" stroke-width="1.1" />
<line x1="233.5" y1="394" x2="233.5" y2="398.6" stroke="#333333" stroke-width="1.1" />
<text x="354.25" y="346.9" font-size="8.9" text-anchor="middle" textLength="42.7" lengthAdjust="spacingAndGlyphs" fill="#231f20">Th2 related</text>
<line x1="291.7" y1="355.3" x2="291.7" y2="375.9" stroke="#231f20" stroke-width="1.1" />
<line x1="289.1" y1="373.43" x2="294.3" y2="378.37" stroke="#231f20" stroke-width="1.0" />
<line x1="289.1" y1="381.33" x2="294.3" y2="386.27" stroke="#231f20" stroke-width="1.0" />
<line x1="291.7" y1="383.8" x2="291.7" y2="449.9" stroke="#231f20" stroke-width="1.1" />
<line x1="288.3" y1="449.4" x2="416.7" y2="449.4" stroke="#231f20" stroke-width="1.1" />
<line x1="288.3" y1="449.4" x2="291.7" y2="449.4" stroke="#231f20" stroke-width="1.0" />
<text x="285.8" y="452.3" font-size="8.2" text-anchor="end" fill="#231f20">0.0</text>
<line x1="288.3" y1="433.05" x2="291.7" y2="433.05" stroke="#231f20" stroke-width="1.0" />
<text x="285.8" y="435.95" font-size="8.2" text-anchor="end" fill="#231f20">0.5</text>
<line x1="288.3" y1="416.7" x2="291.7" y2="416.7" stroke="#231f20" stroke-width="1.0" />
<text x="285.8" y="419.6" font-size="8.2" text-anchor="end" fill="#231f20">1.0</text>
<line x1="288.3" y1="400.35" x2="291.7" y2="400.35" stroke="#231f20" stroke-width="1.0" />
<text x="285.8" y="403.25" font-size="8.2" text-anchor="end" fill="#231f20">1.5</text>
<line x1="288.3" y1="384" x2="291.7" y2="384" stroke="#231f20" stroke-width="1.0" />
<text x="285.8" y="386.9" font-size="8.2" text-anchor="end" fill="#231f20">2.0</text>
<line x1="288.3" y1="359.4" x2="291.7" y2="359.4" stroke="#231f20" stroke-width="1.0" />
<text x="284.9" y="362.1" font-size="8.0" text-anchor="end" fill="#231f20">30</text>
<line x1="288.3" y1="368.4" x2="291.7" y2="368.4" stroke="#231f20" stroke-width="1.0" />
<text x="284.9" y="371.1" font-size="8.0" text-anchor="end" fill="#231f20">15</text>
<rect x="296.9" y="416.37" width="5.4" height="33.03" fill="#c8102e"/>
<line x1="299.6" y1="416.37" x2="299.6" y2="402.71" stroke="#333333" stroke-width="1.1" />
<line x1="297.2" y1="402.71" x2="302" y2="402.71" stroke="#333333" stroke-width="1.3" />
<rect x="303.9" y="406.24" width="5.4" height="43.16" fill="#13508a"/>
<line x1="306.6" y1="406.24" x2="306.6" y2="383.8" stroke="#333333" stroke-width="1.0" />
<line x1="304.2" y1="375.8" x2="309" y2="375.8" stroke="#555" stroke-width="1.0" />
<line x1="303.1" y1="449.4" x2="303.1" y2="453.2" stroke="#231f20" stroke-width="1.0" />
<text transform="translate(306.5,460.4) rotate(-45) scale(0.75,1)" font-size="9.0" text-anchor="end" letter-spacing="0.5" style="stroke-width:0.3" fill="#231f20">IL4</text>
<rect x="317.98" y="418.66" width="5.4" height="30.74" fill="#c8102e"/>
<line x1="320.68" y1="418.66" x2="320.68" y2="402.06" stroke="#333333" stroke-width="1.1" />
<line x1="318.28" y1="402.06" x2="323.08" y2="402.06" stroke="#333333" stroke-width="1.3" />
<rect x="324.98" y="414.41" width="5.4" height="34.99" fill="#13508a"/>
<line x1="327.68" y1="414.41" x2="327.68" y2="401.4" stroke="#333333" stroke-width="1.1" />
<line x1="325.28" y1="401.4" x2="330.08" y2="401.4" stroke="#333333" stroke-width="1.3" />
<line x1="324.18" y1="449.4" x2="324.18" y2="453.2" stroke="#231f20" stroke-width="1.0" />
<text transform="translate(327.58,460.4) rotate(-45) scale(0.75,1)" font-size="9.0" text-anchor="end" letter-spacing="0.5" style="stroke-width:0.3" fill="#231f20">IL5</text>
<rect x="339.06" y="389.56" width="5.4" height="59.84" fill="#c8102e"/>
<line x1="341.76" y1="389.56" x2="341.76" y2="383.8" stroke="#333333" stroke-width="1.0" />
<line x1="339.36" y1="375.6" x2="344.16" y2="375.6" stroke="#555" stroke-width="1.0" />
<rect x="346.06" y="431.74" width="5.4" height="17.66" fill="#13508a"/>
<line x1="348.76" y1="431.74" x2="348.76" y2="425.93" stroke="#333333" stroke-width="1.1" />
<line x1="346.36" y1="425.93" x2="351.16" y2="425.93" stroke="#333333" stroke-width="1.3" />
<line x1="345.26" y1="449.4" x2="345.26" y2="453.2" stroke="#231f20" stroke-width="1.0" />
<text transform="translate(348.66,460.4) rotate(-45) scale(0.75,1)" font-size="9.0" text-anchor="end" letter-spacing="0.5" style="stroke-width:0.3" fill="#231f20">IL13</text>
<rect x="360.14" y="392.83" width="5.4" height="56.57" fill="#c8102e"/>
<line x1="362.84" y1="392.83" x2="362.84" y2="383.8" stroke="#333333" stroke-width="1.0" />
<line x1="360.44" y1="375.6" x2="365.24" y2="375.6" stroke="#555" stroke-width="1.0" />
<rect x="367.14" y="413.1" width="5.4" height="36.3" fill="#13508a"/>
<line x1="369.84" y1="413.1" x2="369.84" y2="404.02" stroke="#333333" stroke-width="1.1" />
<line x1="367.44" y1="404.02" x2="372.24" y2="404.02" stroke="#333333" stroke-width="1.3" />
<line x1="366.34" y1="449.4" x2="366.34" y2="453.2" stroke="#231f20" stroke-width="1.0" />
<text transform="translate(369.74,460.4) rotate(-45) scale(0.75,1)" font-size="9.0" text-anchor="end" letter-spacing="0.5" style="stroke-width:0.3" fill="#231f20">TGFB</text>
<rect x="381.22" y="411.79" width="5.4" height="37.61" fill="#c8102e"/>
<line x1="383.92" y1="411.79" x2="383.92" y2="394.86" stroke="#333333" stroke-width="1.1" />
<line x1="381.52" y1="394.86" x2="386.32" y2="394.86" stroke="#333333" stroke-width="1.3" />
<rect x="388.22" y="423.57" width="5.4" height="25.83" fill="#13508a"/>
<line x1="390.92" y1="423.57" x2="390.92" y2="419.06" stroke="#333333" stroke-width="1.1" />
<line x1="388.52" y1="419.06" x2="393.32" y2="419.06" stroke="#333333" stroke-width="1.3" />
<line x1="387.42" y1="449.4" x2="387.42" y2="453.2" stroke="#231f20" stroke-width="1.0" />
<text transform="translate(390.82,460.4) rotate(-45) scale(0.75,1)" font-size="9.0" text-anchor="end" letter-spacing="0.5" style="stroke-width:0.3" fill="#231f20">IL10</text>
<rect x="402.3" y="384.1" width="5.4" height="65.3" fill="#c8102e"/>
<line x1="402.1" y1="383.9" x2="407.2" y2="388.1" stroke="#231f20" stroke-width="1.25" />
<rect x="402.3" y="366" width="5.4" height="9.9" fill="#c8102e"/>
<line x1="402.1" y1="374.1" x2="407.3" y2="378.3" stroke="#231f20" stroke-width="1.25" />
<line x1="405" y1="360.4" x2="405" y2="366" stroke="#333333" stroke-width="1.1" />
<line x1="402.6" y1="360.4" x2="407.4" y2="360.4" stroke="#333333" stroke-width="1.3" />
<rect x="409.3" y="384.1" width="5.4" height="65.3" fill="#13508a"/>
<line x1="409.1" y1="383.9" x2="414.2" y2="388.1" stroke="#231f20" stroke-width="1.25" />
<rect x="409.3" y="374.3" width="5.4" height="1.6" fill="#13508a"/>
<line x1="409.1" y1="374.1" x2="414.3" y2="378.3" stroke="#231f20" stroke-width="1.25" />
<line x1="412" y1="370.8" x2="412" y2="374.3" stroke="#333333" stroke-width="1.1" />
<line x1="409.6" y1="370.8" x2="414.4" y2="370.8" stroke="#333333" stroke-width="1.3" />
<line x1="408.5" y1="449.4" x2="408.5" y2="453.2" stroke="#231f20" stroke-width="1.0" />
<text transform="translate(411.9,460.4) rotate(-45) scale(0.75,1)" font-size="9.0" text-anchor="end" letter-spacing="0.5" style="stroke-width:0.3" fill="#231f20">IL31</text>
<line x1="404.6" y1="355" x2="415.2" y2="355" stroke="#333333" stroke-width="1.0" />
<line x1="404.6" y1="352.7" x2="404.6" y2="357.3" stroke="#333333" stroke-width="1.1" />
<line x1="415.2" y1="352.7" x2="415.2" y2="357.3" stroke="#333333" stroke-width="1.1" />
<text x="409.9" y="354.8" font-size="9" text-anchor="middle" fill="#231f20">*</text>
<text x="479.35" y="346.9" font-size="8.9" text-anchor="middle" textLength="47.5" lengthAdjust="spacingAndGlyphs" fill="#231f20">Th17 related</text>
<line x1="446.1" y1="350.2" x2="446.1" y2="449.9" stroke="#231f20" stroke-width="1.1" />
<line x1="442.7" y1="449.4" x2="512.8" y2="449.4" stroke="#231f20" stroke-width="1.1" />
<line x1="442.7" y1="449.4" x2="446.1" y2="449.4" stroke="#231f20" stroke-width="1.0" />
<text x="440.2" y="452.3" font-size="8.2" text-anchor="end" fill="#231f20">0</text>
<line x1="442.7" y1="425.65" x2="446.1" y2="425.65" stroke="#231f20" stroke-width="1.0" />
<text x="440.2" y="428.55" font-size="8.2" text-anchor="end" fill="#231f20">1</text>
<line x1="442.7" y1="401.9" x2="446.1" y2="401.9" stroke="#231f20" stroke-width="1.0" />
<text x="440.2" y="404.8" font-size="8.2" text-anchor="end" fill="#231f20">2</text>
<line x1="442.7" y1="378.15" x2="446.1" y2="378.15" stroke="#231f20" stroke-width="1.0" />
<text x="440.2" y="381.05" font-size="8.2" text-anchor="end" fill="#231f20">3</text>
<line x1="442.7" y1="354.4" x2="446.1" y2="354.4" stroke="#231f20" stroke-width="1.0" />
<text x="440.2" y="357.3" font-size="8.2" text-anchor="end" fill="#231f20">4</text>
<rect x="451.6" y="390.02" width="5.4" height="59.38" fill="#c8102e"/>
<line x1="454.3" y1="390.02" x2="454.3" y2="368.57" stroke="#333333" stroke-width="1.1" />
<line x1="451.9" y1="368.57" x2="456.7" y2="368.57" stroke="#333333" stroke-width="1.3" />
<rect x="458.6" y="427.79" width="5.4" height="21.61" fill="#13508a"/>
<line x1="461.3" y1="427.79" x2="461.3" y2="416.07" stroke="#333333" stroke-width="1.1" />
<line x1="458.9" y1="416.07" x2="463.7" y2="416.07" stroke="#333333" stroke-width="1.3" />
<line x1="457.8" y1="449.4" x2="457.8" y2="453.2" stroke="#231f20" stroke-width="1.0" />
<text transform="translate(461.2,460.4) rotate(-45) scale(0.75,1)" font-size="9.0" text-anchor="end" letter-spacing="0.5" style="stroke-width:0.3" fill="#231f20">IL17A</text>
<rect x="473.6" y="406.41" width="5.4" height="42.99" fill="#c8102e"/>
<line x1="476.3" y1="406.41" x2="476.3" y2="396.6" stroke="#333333" stroke-width="1.1" />
<line x1="473.9" y1="396.6" x2="478.7" y2="396.6" stroke="#333333" stroke-width="1.3" />
<rect x="480.6" y="423.75" width="5.4" height="25.65" fill="#13508a"/>
<line x1="483.3" y1="423.75" x2="483.3" y2="417.74" stroke="#333333" stroke-width="1.1" />
<line x1="480.9" y1="417.74" x2="485.7" y2="417.74" stroke="#333333" stroke-width="1.3" />
<line x1="479.8" y1="449.4" x2="479.8" y2="453.2" stroke="#231f20" stroke-width="1.0" />
<text transform="translate(483.2,460.4) rotate(-45) scale(0.75,1)" font-size="9.0" text-anchor="end" letter-spacing="0.5" style="stroke-width:0.3" fill="#231f20">IL22</text>
<rect x="495.6" y="424.94" width="5.4" height="24.46" fill="#c8102e"/>
<line x1="498.3" y1="424.94" x2="498.3" y2="422.96" stroke="#333333" stroke-width="1.1" />
<line x1="495.9" y1="422.96" x2="500.7" y2="422.96" stroke="#333333" stroke-width="1.3" />
<rect x="502.6" y="423.04" width="5.4" height="26.36" fill="#13508a"/>
<line x1="505.3" y1="423.04" x2="505.3" y2="422.72" stroke="#333333" stroke-width="1.1" />
<line x1="502.9" y1="422.72" x2="507.7" y2="422.72" stroke="#333333" stroke-width="1.3" />
<line x1="501.8" y1="449.4" x2="501.8" y2="453.2" stroke="#231f20" stroke-width="1.0" />
<text transform="translate(505.2,460.4) rotate(-45) scale(0.75,1)" font-size="9.0" text-anchor="end" letter-spacing="0.5" style="stroke-width:0.3" fill="#231f20">IL23</text>
<line x1="454.6" y1="363.1" x2="464.6" y2="363.1" stroke="#333333" stroke-width="1.0" />
<line x1="454.6" y1="360.8" x2="454.6" y2="365.4" stroke="#333333" stroke-width="1.1" />
<line x1="464.6" y1="360.8" x2="464.6" y2="365.4" stroke="#333333" stroke-width="1.1" />
<text x="459.6" y="362.5" font-size="9" text-anchor="middle" fill="#231f20">*</text>
<line x1="476.7" y1="391.5" x2="486.7" y2="391.5" stroke="#333333" stroke-width="1.0" />
<line x1="476.7" y1="389.2" x2="476.7" y2="393.8" stroke="#333333" stroke-width="1.1" />
<line x1="486.7" y1="389.2" x2="486.7" y2="393.8" stroke="#333333" stroke-width="1.1" />
<text x="481.7" y="391.3" font-size="9" text-anchor="middle" fill="#231f20">*</text>
<text x="118.15" y="493.5" font-size="8.9" text-anchor="middle" textLength="46.7" lengthAdjust="spacingAndGlyphs" fill="#231f20">Chemokines</text>
<line x1="17.5" y1="496.9" x2="17.5" y2="521.7" stroke="#231f20" stroke-width="1.1" />
<line x1="14.9" y1="519.23" x2="20.1" y2="524.17" stroke="#231f20" stroke-width="1.0" />
<line x1="14.9" y1="527.33" x2="20.1" y2="532.27" stroke="#231f20" stroke-width="1.0" />
<line x1="17.5" y1="529.8" x2="17.5" y2="596.1" stroke="#231f20" stroke-width="1.1" />
<line x1="14.1" y1="595.6" x2="222.3" y2="595.6" stroke="#231f20" stroke-width="1.1" />
<line x1="14.1" y1="595.6" x2="17.5" y2="595.6" stroke="#231f20" stroke-width="1.0" />
<text x="11.6" y="598.5" font-size="8.2" text-anchor="end" fill="#231f20">0</text>
<line x1="14.1" y1="573.67" x2="17.5" y2="573.67" stroke="#231f20" stroke-width="1.0" />
<text x="11.6" y="576.57" font-size="8.2" text-anchor="end" fill="#231f20">1</text>
<line x1="14.1" y1="551.74" x2="17.5" y2="551.74" stroke="#231f20" stroke-width="1.0" />
<text x="11.6" y="554.64" font-size="8.2" text-anchor="end" fill="#231f20">2</text>
<line x1="14.1" y1="529.81" x2="17.5" y2="529.81" stroke="#231f20" stroke-width="1.0" />
<text x="11.6" y="532.71" font-size="8.2" text-anchor="end" fill="#231f20">3</text>
<line x1="14.1" y1="505.3" x2="17.5" y2="505.3" stroke="#231f20" stroke-width="1.0" />
<text x="10.7" y="508" font-size="7.2" text-anchor="end" fill="#231f20">8</text>
<line x1="14.1" y1="512.4" x2="17.5" y2="512.4" stroke="#231f20" stroke-width="1.0" />
<text x="10.7" y="515.1" font-size="7.2" text-anchor="end" fill="#231f20">6</text>
<line x1="14.1" y1="519.2" x2="17.5" y2="519.2" stroke="#231f20" stroke-width="1.0" />
<text x="10.7" y="521.9" font-size="7.2" text-anchor="end" fill="#231f20">4</text>
<rect x="22.35" y="530.1" width="5.4" height="65.5" fill="#c8102e"/>
<line x1="22.15" y1="529.9" x2="27.25" y2="534.1" stroke="#231f20" stroke-width="1.25" />
<rect x="22.35" y="520.5" width="5.4" height="1.2" fill="#c8102e"/>
<line x1="22.15" y1="519.9" x2="27.35" y2="524.1" stroke="#231f20" stroke-width="1.25" />
<line x1="25.05" y1="517" x2="25.05" y2="520.5" stroke="#333333" stroke-width="1.1" />
<line x1="22.65" y1="517" x2="27.45" y2="517" stroke="#333333" stroke-width="1.3" />
<rect x="29.25" y="566.85" width="5.4" height="28.75" fill="#13508a"/>
<line x1="31.95" y1="566.85" x2="31.95" y2="559.29" stroke="#333333" stroke-width="1.1" />
<line x1="29.55" y1="559.29" x2="34.35" y2="559.29" stroke="#333333" stroke-width="1.3" />
<line x1="28.5" y1="595.6" x2="28.5" y2="599.4" stroke="#231f20" stroke-width="1.0" />
<text transform="translate(31.9,606.6) rotate(-45) scale(0.75,1)" font-size="9.0" text-anchor="end" letter-spacing="0.5" style="stroke-width:0.3" fill="#231f20">MCP1</text>
<rect x="42.75" y="571.27" width="5.4" height="24.33" fill="#c8102e"/>
<line x1="45.45" y1="571.27" x2="45.45" y2="567.69" stroke="#333333" stroke-width="1.1" />
<line x1="43.05" y1="567.69" x2="47.85" y2="567.69" stroke="#333333" stroke-width="1.3" />
<rect x="49.65" y="575.91" width="5.4" height="19.69" fill="#13508a"/>
<line x1="52.35" y1="575.91" x2="52.35" y2="574.1" stroke="#333333" stroke-width="1.1" />
<line x1="49.95" y1="574.1" x2="54.75" y2="574.1" stroke="#333333" stroke-width="1.3" />
<line x1="48.9" y1="595.6" x2="48.9" y2="599.4" stroke="#231f20" stroke-width="1.0" />
<text transform="translate(52.3,606.6) rotate(-45) scale(0.75,1)" font-size="9.0" text-anchor="end" letter-spacing="0.5" style="stroke-width:0.3" fill="#231f20">MCP3</text>
<rect x="63.15" y="540.99" width="5.4" height="54.61" fill="#c8102e"/>
<line x1="65.85" y1="540.99" x2="65.85" y2="529.8" stroke="#333333" stroke-width="1.0" />
<line x1="63.45" y1="517.5" x2="68.25" y2="517.5" stroke="#333333" stroke-width="1.3" />
<line x1="65.85" y1="517.5" x2="65.85" y2="521" stroke="#333333" stroke-width="1.1" />
<rect x="70.05" y="574.58" width="5.4" height="21.02" fill="#13508a"/>
<line x1="72.75" y1="574.58" x2="72.75" y2="569.24" stroke="#333333" stroke-width="1.1" />
<line x1="70.35" y1="569.24" x2="75.15" y2="569.24" stroke="#333333" stroke-width="1.3" />
<line x1="69.3" y1="595.6" x2="69.3" y2="599.4" stroke="#231f20" stroke-width="1.0" />
<text transform="translate(72.7,606.6) rotate(-45) scale(0.75,1)" font-size="9.0" text-anchor="end" letter-spacing="0.5" style="stroke-width:0.3" fill="#231f20">MIP1A</text>
<rect x="83.55" y="544.09" width="5.4" height="51.51" fill="#c8102e"/>
<line x1="86.25" y1="544.09" x2="86.25" y2="529.8" stroke="#333333" stroke-width="1.0" />
<line x1="83.85" y1="521" x2="88.65" y2="521" stroke="#555" stroke-width="1.0" />
<rect x="90.45" y="560.44" width="5.4" height="35.16" fill="#13508a"/>
<line x1="93.15" y1="560.44" x2="93.15" y2="552.66" stroke="#333333" stroke-width="1.1" />
<line x1="90.75" y1="552.66" x2="95.55" y2="552.66" stroke="#333333" stroke-width="1.3" />
<line x1="89.7" y1="595.6" x2="89.7" y2="599.4" stroke="#231f20" stroke-width="1.0" />
<text transform="translate(93.1,606.6) rotate(-45) scale(0.75,1)" font-size="9.0" text-anchor="end" letter-spacing="0.5" style="stroke-width:0.3" fill="#231f20">MIP1B</text>
<rect x="103.95" y="530.1" width="5.4" height="65.5" fill="#c8102e"/>
<line x1="103.75" y1="529.9" x2="108.85" y2="534.1" stroke="#231f20" stroke-width="1.25" />
<rect x="103.95" y="519.4" width="5.4" height="2.3" fill="#c8102e"/>
<line x1="103.75" y1="519.9" x2="108.95" y2="524.1" stroke="#231f20" stroke-width="1.25" />
<line x1="106.65" y1="507.9" x2="106.65" y2="519.4" stroke="#333333" stroke-width="1.1" />
<line x1="104.25" y1="507.9" x2="109.05" y2="507.9" stroke="#333333" stroke-width="1.3" />
<rect x="110.85" y="554.47" width="5.4" height="41.13" fill="#13508a"/>
<line x1="113.55" y1="554.47" x2="113.55" y2="535.87" stroke="#333333" stroke-width="1.1" />
<line x1="111.15" y1="535.87" x2="115.95" y2="535.87" stroke="#333333" stroke-width="1.3" />
<line x1="110.1" y1="595.6" x2="110.1" y2="599.4" stroke="#231f20" stroke-width="1.0" />
<text transform="translate(113.5,606.6) rotate(-45) scale(0.75,1)" font-size="9.0" text-anchor="end" letter-spacing="0.5" style="stroke-width:0.3" fill="#231f20">MIP2</text>
<rect x="124.35" y="558.01" width="5.4" height="37.59" fill="#c8102e"/>
<line x1="127.05" y1="558.01" x2="127.05" y2="538.3" stroke="#333333" stroke-width="1.1" />
<line x1="124.65" y1="538.3" x2="129.45" y2="538.3" stroke="#333333" stroke-width="1.3" />
<rect x="131.25" y="571.05" width="5.4" height="24.55" fill="#13508a"/>
<line x1="133.95" y1="571.05" x2="133.95" y2="567.03" stroke="#333333" stroke-width="1.1" />
<line x1="131.55" y1="567.03" x2="136.35" y2="567.03" stroke="#333333" stroke-width="1.3" />
<line x1="130.5" y1="595.6" x2="130.5" y2="599.4" stroke="#231f20" stroke-width="1.0" />
<text transform="translate(133.9,606.6) rotate(-45) scale(0.75,1)" font-size="9.0" text-anchor="end" letter-spacing="0.5" style="stroke-width:0.3" fill="#231f20">RANTES</text>
<rect x="144.75" y="541.65" width="5.4" height="53.95" fill="#c8102e"/>
<line x1="147.45" y1="541.65" x2="147.45" y2="529.8" stroke="#333333" stroke-width="1.0" />
<line x1="145.05" y1="521.7" x2="149.85" y2="521.7" stroke="#555" stroke-width="1.0" />
<rect x="151.65" y="575.03" width="5.4" height="20.57" fill="#13508a"/>
<line x1="154.35" y1="575.03" x2="154.35" y2="571.89" stroke="#333333" stroke-width="1.1" />
<line x1="151.95" y1="571.89" x2="156.75" y2="571.89" stroke="#333333" stroke-width="1.3" />
<line x1="150.9" y1="595.6" x2="150.9" y2="599.4" stroke="#231f20" stroke-width="1.0" />
<text transform="translate(154.3,606.6) rotate(-45) scale(0.75,1)" font-size="9.0" text-anchor="end" letter-spacing="0.5" style="stroke-width:0.3" fill="#231f20">LIX</text>
<rect x="165.15" y="571.27" width="5.4" height="24.33" fill="#c8102e"/>
<line x1="167.85" y1="571.27" x2="167.85" y2="565.92" stroke="#333333" stroke-width="1.1" />
<line x1="165.45" y1="565.92" x2="170.25" y2="565.92" stroke="#333333" stroke-width="1.3" />
<rect x="172.05" y="580.99" width="5.4" height="14.61" fill="#13508a"/>
<line x1="174.75" y1="580.99" x2="174.75" y2="578.74" stroke="#333333" stroke-width="1.1" />
<line x1="172.35" y1="578.74" x2="177.15" y2="578.74" stroke="#333333" stroke-width="1.3" />
<line x1="171.3" y1="595.6" x2="171.3" y2="599.4" stroke="#231f20" stroke-width="1.0" />
<text transform="translate(174.7,606.6) rotate(-45) scale(0.75,1)" font-size="9.0" text-anchor="end" letter-spacing="0.5" style="stroke-width:0.3" fill="#231f20">IP10</text>
<rect x="185.55" y="548.28" width="5.4" height="47.32" fill="#c8102e"/>
<line x1="188.25" y1="548.28" x2="188.25" y2="529.8" stroke="#333333" stroke-width="1.0" />
<line x1="185.85" y1="520.2" x2="190.65" y2="520.2" stroke="#555" stroke-width="1.0" />
<rect x="192.45" y="566.85" width="5.4" height="28.75" fill="#13508a"/>
<line x1="195.15" y1="566.85" x2="195.15" y2="550.67" stroke="#333333" stroke-width="1.1" />
<line x1="192.75" y1="550.67" x2="197.55" y2="550.67" stroke="#333333" stroke-width="1.3" />
<line x1="191.7" y1="595.6" x2="191.7" y2="599.4" stroke="#231f20" stroke-width="1.0" />
<text transform="translate(195.1,606.6) rotate(-45) scale(0.75,1)" font-size="9.0" text-anchor="end" letter-spacing="0.5" style="stroke-width:0.3" fill="#231f20">GROA</text>
<rect x="205.95" y="567.29" width="5.4" height="28.31" fill="#c8102e"/>
<line x1="208.65" y1="567.29" x2="208.65" y2="561.28" stroke="#333333" stroke-width="1.1" />
<line x1="206.25" y1="561.28" x2="211.05" y2="561.28" stroke="#333333" stroke-width="1.3" />
<rect x="212.85" y="576.35" width="5.4" height="19.25" fill="#13508a"/>
<line x1="212.1" y1="595.6" x2="212.1" y2="599.4" stroke="#231f20" stroke-width="1.0" />
<text transform="translate(215.5,606.6) rotate(-45) scale(0.75,1)" font-size="9.0" text-anchor="end" letter-spacing="0.5" style="stroke-width:0.3" fill="#231f20">EOTAXIN</text>
<line x1="24.7" y1="512.8" x2="32.5" y2="512.8" stroke="#333333" stroke-width="1.0" />
<line x1="24.7" y1="510.5" x2="24.7" y2="515.1" stroke="#333333" stroke-width="1.1" />
<line x1="32.5" y1="510.5" x2="32.5" y2="515.1" stroke="#333333" stroke-width="1.1" />
<text x="28.6" y="512.6" font-size="9" text-anchor="middle" fill="#231f20">*</text>
<line x1="45.6" y1="562.7" x2="53.8" y2="562.7" stroke="#333333" stroke-width="1.0" />
<line x1="45.6" y1="560.4" x2="45.6" y2="565" stroke="#333333" stroke-width="1.1" />
<line x1="53.8" y1="560.4" x2="53.8" y2="565" stroke="#333333" stroke-width="1.1" />
<text x="49.7" y="562.5" font-size="9" text-anchor="middle" fill="#231f20">*</text>
<line x1="147.1" y1="515.4" x2="155.4" y2="515.4" stroke="#333333" stroke-width="1.0" />
<line x1="147.1" y1="513.1" x2="147.1" y2="517.7" stroke="#333333" stroke-width="1.1" />
<line x1="155.4" y1="513.1" x2="155.4" y2="517.7" stroke="#333333" stroke-width="1.1" />
<text x="151.25" y="515.2" font-size="9" text-anchor="middle" textLength="7.6" lengthAdjust="spacingAndGlyphs" fill="#231f20">**</text>
<line x1="167.9" y1="561.2" x2="176" y2="561.2" stroke="#333333" stroke-width="1.0" />
<line x1="167.9" y1="558.9" x2="167.9" y2="563.5" stroke="#333333" stroke-width="1.1" />
<line x1="176" y1="558.9" x2="176" y2="563.5" stroke="#333333" stroke-width="1.1" />
<text x="171.95" y="560.9" font-size="9" text-anchor="middle" fill="#231f20">*</text>
<line x1="208.7" y1="555.4" x2="217.3" y2="555.4" stroke="#333333" stroke-width="1.0" />
<line x1="208.7" y1="553.1" x2="208.7" y2="557.7" stroke="#333333" stroke-width="1.1" />
<line x1="217.3" y1="553.1" x2="217.3" y2="557.7" stroke="#333333" stroke-width="1.1" />
<text x="213" y="555" font-size="9" text-anchor="middle" fill="#231f20">*</text>
<text x="288.2" y="493.5" font-size="8.9" text-anchor="middle" textLength="56" lengthAdjust="spacingAndGlyphs" fill="#231f20">Growth factors</text>
<line x1="256.7" y1="496.1" x2="256.7" y2="517.5" stroke="#231f20" stroke-width="1.1" />
<line x1="254.1" y1="515.03" x2="259.3" y2="519.97" stroke="#231f20" stroke-width="1.0" />
<line x1="254.1" y1="523.53" x2="259.3" y2="528.47" stroke="#231f20" stroke-width="1.0" />
<line x1="256.7" y1="526" x2="256.7" y2="596.1" stroke="#231f20" stroke-width="1.1" />
<line x1="253.3" y1="595.6" x2="323.8" y2="595.6" stroke="#231f20" stroke-width="1.1" />
<line x1="253.3" y1="595.6" x2="256.7" y2="595.6" stroke="#231f20" stroke-width="1.0" />
<text x="250.8" y="598.5" font-size="8.2" text-anchor="end" fill="#231f20">0</text>
<line x1="253.3" y1="578.2" x2="256.7" y2="578.2" stroke="#231f20" stroke-width="1.0" />
<text x="250.8" y="581.1" font-size="8.2" text-anchor="end" fill="#231f20">1</text>
<line x1="253.3" y1="560.8" x2="256.7" y2="560.8" stroke="#231f20" stroke-width="1.0" />
<text x="250.8" y="563.7" font-size="8.2" text-anchor="end" fill="#231f20">2</text>
<line x1="253.3" y1="543.4" x2="256.7" y2="543.4" stroke="#231f20" stroke-width="1.0" />
<text x="250.8" y="546.3" font-size="8.2" text-anchor="end" fill="#231f20">3</text>
<line x1="253.3" y1="526" x2="256.7" y2="526" stroke="#231f20" stroke-width="1.0" />
<text x="250.8" y="528.9" font-size="8.2" text-anchor="end" fill="#231f20">4</text>
<line x1="253.3" y1="500.2" x2="256.7" y2="500.2" stroke="#231f20" stroke-width="1.0" />
<text x="249.9" y="502.9" font-size="7.3" text-anchor="end" fill="#231f20">20</text>
<line x1="253.3" y1="511.2" x2="256.7" y2="511.2" stroke="#231f20" stroke-width="1.0" />
<text x="249.9" y="513.9" font-size="7.3" text-anchor="end" fill="#231f20">10</text>
<rect x="262.35" y="571.99" width="5.5" height="23.61" fill="#c8102e"/>
<line x1="265.1" y1="571.99" x2="265.1" y2="566.76" stroke="#333333" stroke-width="1.1" />
<line x1="262.7" y1="566.76" x2="267.5" y2="566.76" stroke="#333333" stroke-width="1.3" />
<rect x="269.55" y="582.72" width="5.5" height="12.88" fill="#13508a"/>
<line x1="272.3" y1="582.72" x2="272.3" y2="579.78" stroke="#333333" stroke-width="1.1" />
<line x1="269.9" y1="579.78" x2="274.7" y2="579.78" stroke="#333333" stroke-width="1.3" />
<line x1="268.7" y1="595.6" x2="268.7" y2="599.4" stroke="#231f20" stroke-width="1.0" />
<text transform="translate(272.1,606.6) rotate(-45) scale(0.75,1)" font-size="9.0" text-anchor="end" letter-spacing="0.5" style="stroke-width:0.3" fill="#231f20">GCSF</text>
<rect x="284.35" y="571.46" width="5.5" height="24.14" fill="#c8102e"/>
<line x1="287.1" y1="571.46" x2="287.1" y2="563.76" stroke="#333333" stroke-width="1.1" />
<line x1="284.7" y1="563.76" x2="289.5" y2="563.76" stroke="#333333" stroke-width="1.3" />
<rect x="291.55" y="582.9" width="5.5" height="12.7" fill="#13508a"/>
<line x1="294.3" y1="582.9" x2="294.3" y2="579.78" stroke="#333333" stroke-width="1.1" />
<line x1="291.9" y1="579.78" x2="296.7" y2="579.78" stroke="#333333" stroke-width="1.3" />
<line x1="290.7" y1="595.6" x2="290.7" y2="599.4" stroke="#231f20" stroke-width="1.0" />
<text transform="translate(294.1,606.6) rotate(-45) scale(0.75,1)" font-size="9.0" text-anchor="end" letter-spacing="0.5" style="stroke-width:0.3" fill="#231f20">MCSF</text>
<rect x="306.35" y="526.3" width="5.5" height="69.3" fill="#c8102e"/>
<line x1="306.15" y1="526.1" x2="311.35" y2="530.3" stroke="#231f20" stroke-width="1.25" />
<rect x="306.35" y="512.7" width="5.5" height="4.8" fill="#c8102e"/>
<line x1="306.15" y1="515.7" x2="311.45" y2="519.9" stroke="#231f20" stroke-width="1.25" />
<line x1="309.1" y1="504.4" x2="309.1" y2="512.7" stroke="#333333" stroke-width="1.1" />
<line x1="306.7" y1="504.4" x2="311.5" y2="504.4" stroke="#333333" stroke-width="1.3" />
<rect x="313.55" y="541.19" width="5.5" height="54.41" fill="#13508a"/>
<line x1="316.3" y1="541.19" x2="316.3" y2="530.85" stroke="#333333" stroke-width="1.1" />
<line x1="313.9" y1="530.85" x2="318.7" y2="530.85" stroke="#333333" stroke-width="1.3" />
<line x1="312.7" y1="595.6" x2="312.7" y2="599.4" stroke="#231f20" stroke-width="1.0" />
<text transform="translate(316.1,606.6) rotate(-45) scale(0.75,1)" font-size="9.0" text-anchor="end" letter-spacing="0.5" style="stroke-width:0.3" fill="#231f20">IL3</text>
<line x1="266.5" y1="558.3" x2="275.2" y2="558.3" stroke="#333333" stroke-width="1.0" />
<line x1="266.5" y1="556" x2="266.5" y2="560.6" stroke="#333333" stroke-width="1.1" />
<line x1="275.2" y1="556" x2="275.2" y2="560.6" stroke="#333333" stroke-width="1.1" />
<line x1="285.8" y1="558.3" x2="294.4" y2="558.3" stroke="#333333" stroke-width="1.0" />
<line x1="285.8" y1="556" x2="285.8" y2="560.6" stroke="#333333" stroke-width="1.1" />
<line x1="294.4" y1="556" x2="294.4" y2="560.6" stroke="#333333" stroke-width="1.1" />
<text x="436.9" y="493.3" font-size="8.9" text-anchor="middle" textLength="59.6" lengthAdjust="spacingAndGlyphs" fill="#231f20">Other cytokines</text>
<line x1="361.1" y1="497.1" x2="361.1" y2="525" stroke="#231f20" stroke-width="1.1" />
<line x1="358.5" y1="522.53" x2="363.7" y2="527.47" stroke="#231f20" stroke-width="1.0" />
<line x1="358.5" y1="530.03" x2="363.7" y2="534.97" stroke="#231f20" stroke-width="1.0" />
<line x1="361.1" y1="532.5" x2="361.1" y2="596.1" stroke="#231f20" stroke-width="1.1" />
<line x1="357.7" y1="595.6" x2="515.4" y2="595.6" stroke="#231f20" stroke-width="1.1" />
<line x1="357.7" y1="595.6" x2="361.1" y2="595.6" stroke="#231f20" stroke-width="1.0" />
<text x="355.2" y="598.5" font-size="8.2" text-anchor="end" fill="#231f20">0.0</text>
<line x1="357.7" y1="579.75" x2="361.1" y2="579.75" stroke="#231f20" stroke-width="1.0" />
<text x="355.2" y="582.65" font-size="8.2" text-anchor="end" fill="#231f20">0.5</text>
<line x1="357.7" y1="563.9" x2="361.1" y2="563.9" stroke="#231f20" stroke-width="1.0" />
<text x="355.2" y="566.8" font-size="8.2" text-anchor="end" fill="#231f20">1.0</text>
<line x1="357.7" y1="548.05" x2="361.1" y2="548.05" stroke="#231f20" stroke-width="1.0" />
<text x="355.2" y="550.95" font-size="8.2" text-anchor="end" fill="#231f20">1.5</text>
<line x1="357.7" y1="532.2" x2="361.1" y2="532.2" stroke="#231f20" stroke-width="1.0" />
<text x="355.2" y="535.1" font-size="8.2" text-anchor="end" fill="#231f20">2.0</text>
<line x1="357.7" y1="509" x2="361.1" y2="509" stroke="#231f20" stroke-width="1.0" />
<text x="354.3" y="511.7" font-size="7.2" text-anchor="end" fill="#231f20">15</text>
<line x1="357.7" y1="515.3" x2="361.1" y2="515.3" stroke="#231f20" stroke-width="1.0" />
<text x="354.3" y="518" font-size="7.2" text-anchor="end" fill="#231f20">10</text>
<line x1="357.7" y1="521.4" x2="361.1" y2="521.4" stroke="#231f20" stroke-width="1.0" />
<text x="354.3" y="524.1" font-size="7.2" text-anchor="end" fill="#231f20">5</text>
<rect x="367.25" y="555.98" width="5.5" height="39.62" fill="#c8102e"/>
<line x1="370" y1="555.98" x2="370" y2="544.64" stroke="#333333" stroke-width="1.1" />
<line x1="367.6" y1="544.64" x2="372.4" y2="544.64" stroke="#333333" stroke-width="1.3" />
<rect x="374.45" y="567.06" width="5.5" height="28.54" fill="#13508a"/>
<line x1="377.2" y1="567.06" x2="377.2" y2="564.2" stroke="#333333" stroke-width="1.1" />
<line x1="374.8" y1="564.2" x2="379.6" y2="564.2" stroke="#333333" stroke-width="1.3" />
<line x1="373.6" y1="595.6" x2="373.6" y2="599.4" stroke="#231f20" stroke-width="1.0" />
<text transform="translate(377,606.6) rotate(-45) scale(0.75,1)" font-size="9.0" text-anchor="end" letter-spacing="0.5" style="stroke-width:0.3" fill="#231f20">IL1A</text>
<rect x="388.7" y="554.02" width="5.5" height="41.58" fill="#c8102e"/>
<line x1="391.45" y1="554.02" x2="391.45" y2="543.01" stroke="#333333" stroke-width="1.1" />
<line x1="389.05" y1="543.01" x2="393.85" y2="543.01" stroke="#333333" stroke-width="1.3" />
<rect x="395.9" y="546.52" width="5.5" height="49.08" fill="#13508a"/>
<line x1="398.65" y1="546.52" x2="398.65" y2="532.5" stroke="#333333" stroke-width="1.0" />
<line x1="396.25" y1="524.8" x2="401.05" y2="524.8" stroke="#555" stroke-width="1.0" />
<line x1="395.05" y1="595.6" x2="395.05" y2="599.4" stroke="#231f20" stroke-width="1.0" />
<text transform="translate(398.45,606.6) rotate(-45) scale(0.75,1)" font-size="9.0" text-anchor="end" letter-spacing="0.5" style="stroke-width:0.3" fill="#231f20">IL1B</text>
<rect x="410.15" y="532.8" width="5.5" height="62.8" fill="#c8102e"/>
<line x1="409.95" y1="532.6" x2="415.15" y2="536.8" stroke="#231f20" stroke-width="1.25" />
<rect x="410.15" y="523.2" width="5.5" height="1.8" fill="#c8102e"/>
<line x1="409.95" y1="523.2" x2="415.25" y2="527.4" stroke="#231f20" stroke-width="1.25" />
<line x1="412.9" y1="517.9" x2="412.9" y2="523.2" stroke="#333333" stroke-width="1.1" />
<line x1="410.5" y1="517.9" x2="415.3" y2="517.9" stroke="#333333" stroke-width="1.3" />
<rect x="417.35" y="564.78" width="5.5" height="30.82" fill="#13508a"/>
<line x1="420.1" y1="564.78" x2="420.1" y2="564.2" stroke="#333333" stroke-width="1.1" />
<line x1="417.7" y1="564.2" x2="422.5" y2="564.2" stroke="#333333" stroke-width="1.3" />
<line x1="416.5" y1="595.6" x2="416.5" y2="599.4" stroke="#231f20" stroke-width="1.0" />
<text transform="translate(419.9,606.6) rotate(-45) scale(0.75,1)" font-size="9.0" text-anchor="end" letter-spacing="0.5" style="stroke-width:0.3" fill="#231f20">IL9</text>
<rect x="431.6" y="552.72" width="5.5" height="42.88" fill="#c8102e"/>
<line x1="434.35" y1="552.72" x2="434.35" y2="545.94" stroke="#333333" stroke-width="1.1" />
<line x1="431.95" y1="545.94" x2="436.75" y2="545.94" stroke="#333333" stroke-width="1.3" />
<rect x="438.8" y="569.34" width="5.5" height="26.26" fill="#13508a"/>
<line x1="441.55" y1="569.34" x2="441.55" y2="569.09" stroke="#333333" stroke-width="1.1" />
<line x1="439.15" y1="569.09" x2="443.95" y2="569.09" stroke="#333333" stroke-width="1.3" />
<line x1="437.95" y1="595.6" x2="437.95" y2="599.4" stroke="#231f20" stroke-width="1.0" />
<text transform="translate(441.35,606.6) rotate(-45) scale(0.75,1)" font-size="9.0" text-anchor="end" letter-spacing="0.5" style="stroke-width:0.3" fill="#231f20">LIF</text>
<rect x="453.05" y="551.74" width="5.5" height="43.86" fill="#c8102e"/>
<line x1="455.8" y1="551.74" x2="455.8" y2="537.47" stroke="#333333" stroke-width="1.1" />
<line x1="453.4" y1="537.47" x2="458.2" y2="537.47" stroke="#333333" stroke-width="1.3" />
<rect x="460.25" y="571.95" width="5.5" height="23.65" fill="#13508a"/>
<line x1="463" y1="571.95" x2="463" y2="566.16" stroke="#333333" stroke-width="1.1" />
<line x1="460.6" y1="566.16" x2="465.4" y2="566.16" stroke="#333333" stroke-width="1.3" />
<line x1="459.4" y1="595.6" x2="459.4" y2="599.4" stroke="#231f20" stroke-width="1.0" />
<text transform="translate(462.8,606.6) rotate(-45) scale(0.75,1)" font-size="9.0" text-anchor="end" letter-spacing="0.5" style="stroke-width:0.3" fill="#231f20">VEGF</text>
<rect x="474.5" y="532.8" width="5.5" height="62.8" fill="#c8102e"/>
<line x1="474.3" y1="532.6" x2="479.5" y2="536.8" stroke="#231f20" stroke-width="1.25" />
<rect x="474.5" y="521.9" width="5.5" height="3.1" fill="#c8102e"/>
<line x1="474.3" y1="523.2" x2="479.6" y2="527.4" stroke="#231f20" stroke-width="1.25" />
<line x1="477.25" y1="510.8" x2="477.25" y2="521.9" stroke="#333333" stroke-width="1.1" />
<line x1="474.85" y1="510.8" x2="479.65" y2="510.8" stroke="#333333" stroke-width="1.3" />
<rect x="481.7" y="589.88" width="5.5" height="5.72" fill="#13508a"/>
<line x1="484.45" y1="589.88" x2="484.45" y2="587.02" stroke="#333333" stroke-width="1.1" />
<line x1="482.05" y1="587.02" x2="486.85" y2="587.02" stroke="#333333" stroke-width="1.3" />
<line x1="480.85" y1="595.6" x2="480.85" y2="599.4" stroke="#231f20" stroke-width="1.0" />
<text transform="translate(484.25,606.6) rotate(-45) scale(0.75,1)" font-size="9.0" text-anchor="end" letter-spacing="0.5" style="stroke-width:0.3" fill="#231f20">IL27</text>
<rect x="495.95" y="532.8" width="5.5" height="62.8" fill="#c8102e"/>
<line x1="495.75" y1="532.6" x2="500.95" y2="536.8" stroke="#231f20" stroke-width="1.25" />
<rect x="495.95" y="523.4" width="5.5" height="1.6" fill="#c8102e"/>
<line x1="495.75" y1="523.2" x2="501.05" y2="527.4" stroke="#231f20" stroke-width="1.25" />
<line x1="498.7" y1="518.5" x2="498.7" y2="523.4" stroke="#333333" stroke-width="1.1" />
<line x1="496.3" y1="518.5" x2="501.1" y2="518.5" stroke="#333333" stroke-width="1.3" />
<rect x="503.15" y="564.13" width="5.5" height="31.47" fill="#13508a"/>
<line x1="505.9" y1="564.13" x2="505.9" y2="555.07" stroke="#333333" stroke-width="1.1" />
<line x1="503.5" y1="555.07" x2="508.3" y2="555.07" stroke="#333333" stroke-width="1.3" />
<line x1="502.3" y1="595.6" x2="502.3" y2="599.4" stroke="#231f20" stroke-width="1.0" />
<text transform="translate(505.7,606.6) rotate(-45) scale(0.75,1)" font-size="9.0" text-anchor="end" letter-spacing="0.5" style="stroke-width:0.3" fill="#231f20">IL6</text>
<line x1="432.5" y1="541.2" x2="441.7" y2="541.2" stroke="#333333" stroke-width="1.0" />
<line x1="432.5" y1="538.9" x2="432.5" y2="543.5" stroke="#333333" stroke-width="1.1" />
<line x1="441.7" y1="538.9" x2="441.7" y2="543.5" stroke="#333333" stroke-width="1.1" />
<rect x="384.5" y="500.6" width="6.8" height="6.9" fill="#c8102e"/>
<text x="394" y="506.9" font-size="8.5" text-anchor="start" textLength="41.6" lengthAdjust="spacingAndGlyphs" fill="#231f20">VIP-KO pDC</text>
<rect x="450.6" y="500.6" width="6.8" height="6.9" fill="#13508a"/>
<text x="460.4" y="506.9" font-size="8.5" text-anchor="start" textLength="28.6" lengthAdjust="spacingAndGlyphs" fill="#231f20">WT pDC</text>
</g></svg>
</body></html>
